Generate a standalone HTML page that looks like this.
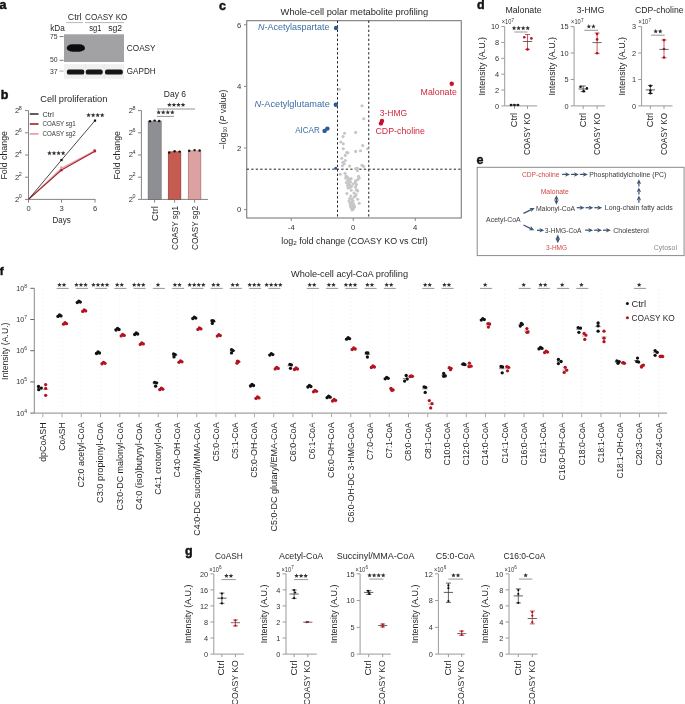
<!DOCTYPE html>
<html><head><meta charset="utf-8"><style>
html,body{margin:0;padding:0;background:#fff;width:685px;height:704px;overflow:hidden}
svg{display:block;will-change:transform}
text{font-family:"Liberation Sans",sans-serif}
</style></head><body>
<svg width="685" height="704" viewBox="0 0 685 704" font-family="Liberation Sans, sans-serif" fill="#231f20">
<text x="-0.50" y="9.00" font-size="12.5" fill="#111" font-weight="bold" stroke="#111" stroke-width="0.45">a</text>
<text x="67.80" y="20.40" font-size="8.5" textLength="13.80" lengthAdjust="spacingAndGlyphs">Ctrl</text>
<text x="85.00" y="20.40" font-size="8.5" textLength="42.40" lengthAdjust="spacingAndGlyphs">COASY KO</text>
<line x1="66.00" y1="22.60" x2="83.00" y2="22.60" stroke="#b0b0b0" stroke-width="0.9"/>
<line x1="85.00" y1="22.60" x2="124.00" y2="22.60" stroke="#b0b0b0" stroke-width="0.9"/>
<text x="50.20" y="31.00" font-size="8.5" textLength="14.60" lengthAdjust="spacingAndGlyphs">kDa</text>
<text x="89.20" y="31.00" font-size="8.5" textLength="12.20" lengthAdjust="spacingAndGlyphs">sg1</text>
<text x="108.20" y="31.00" font-size="8.5" textLength="14.00" lengthAdjust="spacingAndGlyphs">sg2</text>
<text x="50.00" y="39.00" font-size="7.8" fill="#333" textLength="7.60" lengthAdjust="spacingAndGlyphs">75</text>
<text x="50.00" y="62.40" font-size="7.8" fill="#333" textLength="7.60" lengthAdjust="spacingAndGlyphs">50</text>
<text x="50.00" y="73.80" font-size="7.8" fill="#333" textLength="7.60" lengthAdjust="spacingAndGlyphs">37</text>
<line x1="59.60" y1="36.60" x2="63.60" y2="36.60" stroke="#555" stroke-width="0.8"/>
<line x1="59.60" y1="60.30" x2="63.60" y2="60.30" stroke="#555" stroke-width="0.8"/>
<line x1="59.60" y1="71.10" x2="63.60" y2="71.10" stroke="#999" stroke-width="0.8"/>
<defs><filter id="blur1" x="-20%" y="-50%" width="140%" height="200%"><feGaussianBlur stdDeviation="0.6"/></filter><filter id="blur2"><feGaussianBlur stdDeviation="0.35"/></filter></defs>
<rect x="64.00" y="34.30" width="60.00" height="27.70" fill="#a2a2a4"/>
<rect x="66.7" y="44.3" width="18.3" height="7.4" rx="5.5" ry="3.7" fill="#0e0e0e" filter="url(#blur2)"/>
<rect x="64.00" y="64.20" width="60.00" height="14.60" fill="#f0f0f0"/>
<rect x="84.90" y="64.20" width="1.00" height="14.60" fill="#e6e6e6"/>
<rect x="103.70" y="64.20" width="1.00" height="14.60" fill="#e6e6e6"/>
<rect x="66.9" y="69.4" width="17.4" height="5.2" rx="2.0" ry="2.2" fill="#141414" filter="url(#blur2)"/>
<rect x="85.8" y="69.4" width="16.9" height="5.2" rx="2.0" ry="2.2" fill="#141414" filter="url(#blur2)"/>
<rect x="105.0" y="69.4" width="17.8" height="5.2" rx="2.0" ry="2.2" fill="#141414" filter="url(#blur2)"/>
<text x="126.80" y="51.40" font-size="8.5" textLength="28.80" lengthAdjust="spacingAndGlyphs">COASY</text>
<text x="126.80" y="74.40" font-size="8.5" textLength="28.80" lengthAdjust="spacingAndGlyphs">GAPDH</text>
<text x="0.80" y="98.90" font-size="12.5" fill="#111" font-weight="bold" stroke="#111" stroke-width="0.45">b</text>
<text x="40.20" y="102.00" font-size="9.6" textLength="67.20" lengthAdjust="spacingAndGlyphs">Cell proliferation</text>
<line x1="28.50" y1="110.50" x2="28.50" y2="199.40" stroke="#858585" stroke-width="1"/>
<line x1="28.50" y1="199.40" x2="95.50" y2="199.40" stroke="#858585" stroke-width="1"/>
<line x1="25.00" y1="199.40" x2="28.50" y2="199.40" stroke="#858585" stroke-width="1"/>
<text x="14.97" y="201.70" font-size="7.6" fill="#333">2<tspan font-size="5.4" dx="-0.5" dy="-3.4">0</tspan></text>
<line x1="25.00" y1="177.20" x2="28.50" y2="177.20" stroke="#858585" stroke-width="1"/>
<text x="14.97" y="179.50" font-size="7.6" fill="#333">2<tspan font-size="5.4" dx="-0.5" dy="-3.4">2</tspan></text>
<line x1="25.00" y1="155.00" x2="28.50" y2="155.00" stroke="#858585" stroke-width="1"/>
<text x="14.97" y="157.30" font-size="7.6" fill="#333">2<tspan font-size="5.4" dx="-0.5" dy="-3.4">4</tspan></text>
<line x1="25.00" y1="132.80" x2="28.50" y2="132.80" stroke="#858585" stroke-width="1"/>
<text x="14.97" y="135.10" font-size="7.6" fill="#333">2<tspan font-size="5.4" dx="-0.5" dy="-3.4">6</tspan></text>
<line x1="25.00" y1="110.60" x2="28.50" y2="110.60" stroke="#858585" stroke-width="1"/>
<text x="14.97" y="112.90" font-size="7.6" fill="#333">2<tspan font-size="5.4" dx="-0.5" dy="-3.4">8</tspan></text>
<line x1="28.50" y1="199.40" x2="28.50" y2="202.60" stroke="#858585" stroke-width="1"/>
<text x="28.50" y="211.30" font-size="7.6" text-anchor="middle" fill="#333">0</text>
<line x1="61.50" y1="199.40" x2="61.50" y2="202.60" stroke="#858585" stroke-width="1"/>
<text x="61.50" y="211.30" font-size="7.6" text-anchor="middle" fill="#333">3</text>
<line x1="95.00" y1="199.40" x2="95.00" y2="202.60" stroke="#858585" stroke-width="1"/>
<text x="95.00" y="211.30" font-size="7.6" text-anchor="middle" fill="#333">6</text>
<text x="52.60" y="223.00" font-size="8.5" textLength="18.20" lengthAdjust="spacingAndGlyphs">Days</text>
<text x="7.00" y="131.00" font-size="8.5" text-anchor="end" textLength="48.60" lengthAdjust="spacingAndGlyphs" transform="rotate(-90 7.00 131.00)">Fold change</text>
<line x1="29.80" y1="114.00" x2="38.50" y2="114.00" stroke="#1a1a1a" stroke-width="1.4"/>
<line x1="29.80" y1="124.00" x2="38.50" y2="124.00" stroke="#a3202e" stroke-width="1.6"/>
<line x1="29.80" y1="133.90" x2="38.50" y2="133.90" stroke="#e7a2a5" stroke-width="1.8"/>
<text x="42.60" y="116.60" font-size="6.8" fill="#333" textLength="11.20" lengthAdjust="spacingAndGlyphs">Ctrl</text>
<text x="42.60" y="126.30" font-size="6.8" fill="#333" textLength="33.00" lengthAdjust="spacingAndGlyphs">COASY sg1</text>
<text x="42.60" y="136.00" font-size="6.8" fill="#333" textLength="33.00" lengthAdjust="spacingAndGlyphs">COASY sg2</text>
<polyline points="28.5,199.4 61.5,168.2 95,150.6" fill="none" stroke="#e7a2a5" stroke-width="1.3"/>
<polyline points="28.5,199.4 61.5,170.0 95,151.2" fill="none" stroke="#a3202e" stroke-width="1.1"/>
<polyline points="28.5,199.4 61.5,160.0 95,120.6" fill="none" stroke="#1a1a1a" stroke-width="0.8"/>
<rect x="60.40" y="158.90" width="2.2" height="2.2" fill="#111"/>
<rect x="93.90" y="119.50" width="2.2" height="2.2" fill="#111"/>
<rect x="60.40" y="169.10" width="2.2" height="2.2" fill="#a3202e"/>
<rect x="93.90" y="150.10" width="2.2" height="2.2" fill="#a3202e"/>
<rect x="60.20" y="166.50" width="2.2" height="2.2" fill="#e49ca0"/>
<rect x="93.50" y="149.30" width="2.2" height="2.2" fill="#b6303c"/>
<polygon points="49.47,150.80 50.11,152.33 51.76,152.46 50.50,153.53 50.89,155.14 49.47,154.28 48.06,155.14 48.45,153.53 47.19,152.46 48.84,152.33" fill="#333"/>
<polygon points="54.02,150.80 54.66,152.33 56.31,152.46 55.05,153.53 55.44,155.14 54.02,154.28 52.61,155.14 53.00,153.53 51.74,152.46 53.39,152.33" fill="#333"/>
<polygon points="58.57,150.80 59.21,152.33 60.86,152.46 59.60,153.53 59.99,155.14 58.57,154.28 57.16,155.14 57.55,153.53 56.29,152.46 57.94,152.33" fill="#333"/>
<polygon points="63.12,150.80 63.76,152.33 65.41,152.46 64.15,153.53 64.54,155.14 63.12,154.28 61.71,155.14 62.10,153.53 60.84,152.46 62.49,152.33" fill="#333"/>
<polygon points="88.58,112.80 89.21,114.33 90.86,114.46 89.60,115.53 89.99,117.14 88.58,116.28 87.16,117.14 87.55,115.53 86.29,114.46 87.94,114.33" fill="#333"/>
<polygon points="93.12,112.80 93.76,114.33 95.41,114.46 94.15,115.53 94.54,117.14 93.12,116.28 91.71,117.14 92.10,115.53 90.84,114.46 92.49,114.33" fill="#333"/>
<polygon points="97.67,112.80 98.31,114.33 99.96,114.46 98.70,115.53 99.09,117.14 97.67,116.28 96.26,117.14 96.65,115.53 95.39,114.46 97.04,114.33" fill="#333"/>
<polygon points="102.22,112.80 102.86,114.33 104.51,114.46 103.25,115.53 103.64,117.14 102.22,116.28 100.81,117.14 101.20,115.53 99.94,114.46 101.59,114.33" fill="#333"/>
<text x="163.80" y="97.40" font-size="8.5" textLength="22.20" lengthAdjust="spacingAndGlyphs">Day 6</text>
<line x1="141.40" y1="110.50" x2="141.40" y2="199.40" stroke="#858585" stroke-width="1"/>
<line x1="141.40" y1="199.40" x2="208.00" y2="199.40" stroke="#858585" stroke-width="1"/>
<line x1="138.00" y1="199.40" x2="141.40" y2="199.40" stroke="#858585" stroke-width="1"/>
<text x="128.77" y="201.70" font-size="7.6" fill="#333">2<tspan font-size="5.4" dx="-0.5" dy="-3.4">0</tspan></text>
<line x1="138.00" y1="177.20" x2="141.40" y2="177.20" stroke="#858585" stroke-width="1"/>
<text x="128.77" y="179.50" font-size="7.6" fill="#333">2<tspan font-size="5.4" dx="-0.5" dy="-3.4">2</tspan></text>
<line x1="138.00" y1="155.00" x2="141.40" y2="155.00" stroke="#858585" stroke-width="1"/>
<text x="128.77" y="157.30" font-size="7.6" fill="#333">2<tspan font-size="5.4" dx="-0.5" dy="-3.4">4</tspan></text>
<line x1="138.00" y1="132.80" x2="141.40" y2="132.80" stroke="#858585" stroke-width="1"/>
<text x="128.77" y="135.10" font-size="7.6" fill="#333">2<tspan font-size="5.4" dx="-0.5" dy="-3.4">6</tspan></text>
<line x1="138.00" y1="110.60" x2="141.40" y2="110.60" stroke="#858585" stroke-width="1"/>
<text x="128.77" y="112.90" font-size="7.6" fill="#333">2<tspan font-size="5.4" dx="-0.5" dy="-3.4">8</tspan></text>
<rect x="148.10" y="121.00" width="13.10" height="78.40" fill="#8e8f93" stroke="#5a5b5e" stroke-width="0.5"/>
<rect x="168.20" y="151.80" width="12.70" height="47.60" fill="#c55b51" stroke="#7a2a26" stroke-width="0.5"/>
<rect x="188.20" y="150.90" width="12.70" height="48.50" fill="#dca1a0" stroke="#8a5a5a" stroke-width="0.5"/>
<line x1="150.00" y1="121.00" x2="159.50" y2="120.50" stroke="#ddd" stroke-width="0.6"/>
<circle cx="150.00" cy="121.20" r="1.2" fill="#111"/>
<circle cx="154.60" cy="120.60" r="1.2" fill="#111"/>
<circle cx="159.20" cy="121.00" r="1.2" fill="#111"/>
<circle cx="169.20" cy="152.60" r="1.2" fill="#111"/>
<circle cx="174.60" cy="151.20" r="1.2" fill="#111"/>
<circle cx="179.60" cy="151.60" r="1.2" fill="#111"/>
<circle cx="189.20" cy="150.70" r="1.2" fill="#111"/>
<circle cx="194.60" cy="150.10" r="1.2" fill="#111"/>
<circle cx="199.60" cy="150.50" r="1.2" fill="#111"/>
<line x1="154.60" y1="199.40" x2="154.60" y2="202.60" stroke="#858585" stroke-width="1"/>
<text x="157.60" y="206.00" font-size="8.3" text-anchor="end" textLength="15.00" lengthAdjust="spacingAndGlyphs" transform="rotate(-90 157.60 206.00)">Ctrl</text>
<line x1="174.60" y1="199.40" x2="174.60" y2="202.60" stroke="#858585" stroke-width="1"/>
<text x="177.60" y="206.00" font-size="8.3" text-anchor="end" textLength="44.00" lengthAdjust="spacingAndGlyphs" transform="rotate(-90 177.60 206.00)">COASY sg1</text>
<line x1="194.60" y1="199.40" x2="194.60" y2="202.60" stroke="#858585" stroke-width="1"/>
<text x="197.60" y="206.00" font-size="8.3" text-anchor="end" textLength="44.00" lengthAdjust="spacingAndGlyphs" transform="rotate(-90 197.60 206.00)">COASY sg2</text>
<polygon points="158.68,110.00 159.31,111.53 160.96,111.66 159.70,112.73 160.09,114.34 158.68,113.48 157.26,114.34 157.65,112.73 156.39,111.66 158.04,111.53" fill="#333"/>
<polygon points="163.23,110.00 163.86,111.53 165.51,111.66 164.25,112.73 164.64,114.34 163.23,113.48 161.81,114.34 162.20,112.73 160.94,111.66 162.59,111.53" fill="#333"/>
<polygon points="167.78,110.00 168.41,111.53 170.06,111.66 168.80,112.73 169.19,114.34 167.78,113.48 166.36,114.34 166.75,112.73 165.49,111.66 167.14,111.53" fill="#333"/>
<polygon points="172.33,110.00 172.96,111.53 174.61,111.66 173.35,112.73 173.74,114.34 172.33,113.48 170.91,114.34 171.30,112.73 170.04,111.66 171.69,111.53" fill="#333"/>
<line x1="157.00" y1="116.40" x2="174.00" y2="116.40" stroke="#888" stroke-width="0.9"/>
<polygon points="169.38,102.40 170.01,103.93 171.66,104.06 170.40,105.13 170.79,106.74 169.38,105.88 167.96,106.74 168.35,105.13 167.09,104.06 168.74,103.93" fill="#333"/>
<polygon points="173.93,102.40 174.56,103.93 176.21,104.06 174.95,105.13 175.34,106.74 173.93,105.88 172.51,106.74 172.90,105.13 171.64,104.06 173.29,103.93" fill="#333"/>
<polygon points="178.47,102.40 179.11,103.93 180.76,104.06 179.50,105.13 179.89,106.74 178.47,105.88 177.06,106.74 177.45,105.13 176.19,104.06 177.84,103.93" fill="#333"/>
<polygon points="183.03,102.40 183.66,103.93 185.31,104.06 184.05,105.13 184.44,106.74 183.03,105.88 181.61,106.74 182.00,105.13 180.74,104.06 182.39,103.93" fill="#333"/>
<line x1="157.00" y1="109.00" x2="195.00" y2="109.00" stroke="#888" stroke-width="0.9"/>
<text x="120.00" y="131.00" font-size="8.5" text-anchor="end" textLength="48.60" lengthAdjust="spacingAndGlyphs" transform="rotate(-90 120.00 131.00)">Fold change</text>
<text x="219.00" y="9.80" font-size="12.5" fill="#111" font-weight="bold" stroke="#111" stroke-width="0.45">c</text>
<text x="280.60" y="15.00" font-size="9.5" textLength="147.60" lengthAdjust="spacingAndGlyphs">Whole-cell polar metabolite profiling</text>
<rect x="246.75" y="20.7" width="214.5" height="197.3" fill="none" stroke="#6e6e6e" stroke-width="1"/>
<line x1="244.00" y1="209.60" x2="246.75" y2="209.60" stroke="#858585" stroke-width="1"/>
<text x="241.20" y="212.30" font-size="7.7" text-anchor="end" fill="#333">0</text>
<line x1="244.00" y1="148.00" x2="246.75" y2="148.00" stroke="#858585" stroke-width="1"/>
<text x="241.20" y="150.70" font-size="7.7" text-anchor="end" fill="#333">2</text>
<line x1="244.00" y1="86.40" x2="246.75" y2="86.40" stroke="#858585" stroke-width="1"/>
<text x="241.20" y="89.10" font-size="7.7" text-anchor="end" fill="#333">4</text>
<line x1="244.00" y1="24.80" x2="246.75" y2="24.80" stroke="#858585" stroke-width="1"/>
<text x="241.20" y="27.50" font-size="7.7" text-anchor="end" fill="#333">6</text>
<line x1="291.25" y1="218.00" x2="291.25" y2="221.00" stroke="#858585" stroke-width="1"/>
<text x="291.25" y="230.40" font-size="7.7" text-anchor="middle" fill="#333">-4</text>
<line x1="353.25" y1="218.00" x2="353.25" y2="221.00" stroke="#858585" stroke-width="1"/>
<text x="353.25" y="230.40" font-size="7.7" text-anchor="middle" fill="#333">0</text>
<line x1="415.25" y1="218.00" x2="415.25" y2="221.00" stroke="#858585" stroke-width="1"/>
<text x="415.25" y="230.40" font-size="7.7" text-anchor="middle" fill="#333">4</text>
<line x1="337.50" y1="20.70" x2="337.50" y2="218.00" stroke="#222" stroke-width="1.0" stroke-dasharray="2.3,2.2"/>
<line x1="368.75" y1="20.70" x2="368.75" y2="218.00" stroke="#222" stroke-width="1.0" stroke-dasharray="2.3,2.2"/>
<line x1="246.75" y1="169.20" x2="461.25" y2="169.20" stroke="#222" stroke-width="1.0" stroke-dasharray="2.3,2.2"/>
<text x="281.3" y="243.5" font-size="8.5" fill="#231f20" textLength="146.5" lengthAdjust="spacingAndGlyphs">log<tspan font-size="6" dy="1.8">2</tspan><tspan dy="-1.8"> fold change (COASY KO vs Ctrl)</tspan></text>
<text x="225.8" y="149.2" font-size="8.5" fill="#231f20" transform="rotate(-90 225.8 149.2)" textLength="59.5" lengthAdjust="spacingAndGlyphs">−log<tspan font-size="5" dy="1.6">10</tspan><tspan dy="-1.6"> (</tspan><tspan font-style="italic">P</tspan> value)</text>
<circle cx="339.25" cy="89.25" r="1.55" fill="#c6c6c8"/>
<circle cx="362.00" cy="105.75" r="1.55" fill="#c6c6c8"/>
<circle cx="363.75" cy="118.75" r="1.55" fill="#c6c6c8"/>
<circle cx="344.60" cy="133.30" r="1.55" fill="#c6c6c8"/>
<circle cx="343.00" cy="136.60" r="1.55" fill="#c6c6c8"/>
<circle cx="355.70" cy="132.40" r="1.55" fill="#c6c6c8"/>
<circle cx="340.80" cy="142.00" r="1.55" fill="#c6c6c8"/>
<circle cx="343.30" cy="143.70" r="1.55" fill="#c6c6c8"/>
<circle cx="362.70" cy="145.50" r="1.55" fill="#c6c6c8"/>
<circle cx="343.30" cy="148.80" r="1.55" fill="#c6c6c8"/>
<circle cx="367.60" cy="148.80" r="1.55" fill="#c6c6c8"/>
<circle cx="346.60" cy="152.50" r="1.55" fill="#c6c6c8"/>
<circle cx="347.90" cy="152.70" r="1.55" fill="#c6c6c8"/>
<circle cx="355.70" cy="151.40" r="1.55" fill="#c6c6c8"/>
<circle cx="360.50" cy="150.70" r="1.55" fill="#c6c6c8"/>
<circle cx="345.30" cy="155.40" r="1.55" fill="#c6c6c8"/>
<circle cx="341.70" cy="158.30" r="1.55" fill="#c6c6c8"/>
<circle cx="345.30" cy="160.50" r="1.55" fill="#c6c6c8"/>
<circle cx="342.80" cy="162.30" r="1.55" fill="#c6c6c8"/>
<circle cx="344.20" cy="163.80" r="1.55" fill="#c6c6c8"/>
<circle cx="342.40" cy="165.80" r="1.55" fill="#c6c6c8"/>
<circle cx="349.60" cy="166.10" r="1.55" fill="#c6c6c8"/>
<circle cx="362.00" cy="165.30" r="1.55" fill="#c6c6c8"/>
<circle cx="363.60" cy="166.40" r="1.55" fill="#c6c6c8"/>
<circle cx="355.90" cy="168.50" r="1.55" fill="#c6c6c8"/>
<circle cx="357.40" cy="168.20" r="1.55" fill="#c6c6c8"/>
<circle cx="340.20" cy="174.30" r="1.55" fill="#c6c6c8"/>
<circle cx="345.00" cy="173.20" r="1.55" fill="#c6c6c8"/>
<circle cx="357.40" cy="170.80" r="1.55" fill="#c6c6c8"/>
<circle cx="345.70" cy="178.10" r="1.55" fill="#c6c6c8"/>
<circle cx="347.50" cy="177.00" r="1.55" fill="#c6c6c8"/>
<circle cx="349.00" cy="178.90" r="1.55" fill="#c6c6c8"/>
<circle cx="351.20" cy="178.50" r="1.55" fill="#c6c6c8"/>
<circle cx="358.50" cy="176.30" r="1.55" fill="#c6c6c8"/>
<circle cx="359.20" cy="178.10" r="1.55" fill="#c6c6c8"/>
<circle cx="357.70" cy="179.60" r="1.55" fill="#c6c6c8"/>
<circle cx="355.50" cy="180.70" r="1.55" fill="#c6c6c8"/>
<circle cx="347.90" cy="180.30" r="1.55" fill="#c6c6c8"/>
<circle cx="349.70" cy="180.70" r="1.55" fill="#c6c6c8"/>
<circle cx="346.40" cy="182.50" r="1.55" fill="#c6c6c8"/>
<circle cx="355.20" cy="182.50" r="1.55" fill="#c6c6c8"/>
<circle cx="347.50" cy="185.40" r="1.55" fill="#c6c6c8"/>
<circle cx="349.70" cy="185.10" r="1.55" fill="#c6c6c8"/>
<circle cx="351.50" cy="186.50" r="1.55" fill="#c6c6c8"/>
<circle cx="355.50" cy="186.90" r="1.55" fill="#c6c6c8"/>
<circle cx="356.30" cy="189.80" r="1.55" fill="#c6c6c8"/>
<circle cx="357.70" cy="190.90" r="1.55" fill="#c6c6c8"/>
<circle cx="351.20" cy="190.20" r="1.55" fill="#c6c6c8"/>
<circle cx="346.90" cy="193.50" r="1.55" fill="#c6c6c8"/>
<circle cx="350.80" cy="196.00" r="1.55" fill="#c6c6c8"/>
<circle cx="355.50" cy="196.00" r="1.55" fill="#c6c6c8"/>
<circle cx="354.10" cy="197.10" r="1.55" fill="#c6c6c8"/>
<circle cx="349.70" cy="198.60" r="1.55" fill="#c6c6c8"/>
<circle cx="357.70" cy="199.20" r="1.55" fill="#c6c6c8"/>
<circle cx="349.00" cy="201.10" r="1.55" fill="#c6c6c8"/>
<circle cx="351.90" cy="201.50" r="1.55" fill="#c6c6c8"/>
<circle cx="351.20" cy="203.00" r="1.55" fill="#c6c6c8"/>
<circle cx="353.40" cy="203.70" r="1.55" fill="#c6c6c8"/>
<circle cx="359.20" cy="203.30" r="1.55" fill="#c6c6c8"/>
<circle cx="350.40" cy="205.90" r="1.55" fill="#c6c6c8"/>
<circle cx="354.10" cy="205.50" r="1.55" fill="#c6c6c8"/>
<circle cx="351.90" cy="207.30" r="1.55" fill="#c6c6c8"/>
<circle cx="353.40" cy="208.80" r="1.55" fill="#c6c6c8"/>
<circle cx="352.60" cy="209.50" r="1.55" fill="#c6c6c8"/>
<circle cx="352.00" cy="199.00" r="1.55" fill="#c6c6c8"/>
<circle cx="353.00" cy="201.00" r="1.55" fill="#c6c6c8"/>
<circle cx="350.00" cy="203.50" r="1.55" fill="#c6c6c8"/>
<circle cx="352.50" cy="205.00" r="1.55" fill="#c6c6c8"/>
<circle cx="351.00" cy="207.50" r="1.55" fill="#c6c6c8"/>
<circle cx="354.50" cy="207.00" r="1.55" fill="#c6c6c8"/>
<circle cx="352.00" cy="210.00" r="1.55" fill="#c6c6c8"/>
<circle cx="348.50" cy="183.50" r="1.55" fill="#c6c6c8"/>
<circle cx="350.50" cy="182.00" r="1.55" fill="#c6c6c8"/>
<circle cx="353.00" cy="184.00" r="1.55" fill="#c6c6c8"/>
<circle cx="356.50" cy="184.50" r="1.55" fill="#c6c6c8"/>
<circle cx="346.00" cy="176.00" r="1.55" fill="#c6c6c8"/>
<circle cx="348.00" cy="188.00" r="1.55" fill="#c6c6c8"/>
<circle cx="350.00" cy="187.50" r="1.55" fill="#c6c6c8"/>
<circle cx="354.00" cy="193.00" r="1.55" fill="#c6c6c8"/>
<circle cx="356.00" cy="194.50" r="1.55" fill="#c6c6c8"/>
<circle cx="336.00" cy="28.00" r="2.2" fill="#2c5a94"/>
<circle cx="335.80" cy="104.80" r="2.2" fill="#2c5a94"/>
<circle cx="324.60" cy="130.90" r="2.2" fill="#2c5a94"/>
<circle cx="327.40" cy="128.60" r="2.2" fill="#2c5a94"/>
<circle cx="335.80" cy="168.30" r="1.5" fill="#2c5a94"/>
<text x="258.00" y="30.10" font-size="8.5" fill="#3a6ea5" textLength="71.40" lengthAdjust="spacingAndGlyphs"><tspan font-style="italic">N</tspan>-Acetylaspartate</text>
<text x="254.60" y="107.20" font-size="8.5" fill="#3a6ea5" textLength="75.20" lengthAdjust="spacingAndGlyphs"><tspan font-style="italic">N</tspan>-Acetylglutamate</text>
<text x="295.20" y="133.00" font-size="8.5" fill="#3a6ea5" textLength="24.60" lengthAdjust="spacingAndGlyphs">AICAR</text>
<circle cx="451.75" cy="83.75" r="2.2" fill="#c8102e"/>
<circle cx="382.00" cy="120.90" r="2.2" fill="#c8102e"/>
<circle cx="380.90" cy="123.40" r="2.2" fill="#c8102e"/>
<text x="420.60" y="95.00" font-size="8.5" fill="#d0263a" textLength="36.20" lengthAdjust="spacingAndGlyphs">Malonate</text>
<text x="379.80" y="115.60" font-size="8.5" fill="#d0263a" textLength="27.40" lengthAdjust="spacingAndGlyphs">3-HMG</text>
<text x="375.50" y="134.00" font-size="8.5" fill="#d0263a" textLength="49.40" lengthAdjust="spacingAndGlyphs">CDP-choline</text>
<text x="477.00" y="9.00" font-size="12.5" fill="#111" font-weight="bold" stroke="#111" stroke-width="0.45">d</text>
<text x="505.40" y="12.80" font-size="8.5" textLength="36.20" lengthAdjust="spacingAndGlyphs">Malonate</text>
<line x1="504.70" y1="26.60" x2="504.70" y2="105.90" stroke="#9a9a9a" stroke-width="1"/>
<line x1="504.70" y1="105.90" x2="537.10" y2="105.90" stroke="#9a9a9a" stroke-width="1"/>
<line x1="501.30" y1="105.90" x2="504.70" y2="105.90" stroke="#9a9a9a" stroke-width="1"/>
<text x="499.10" y="108.60" font-size="7.6" text-anchor="end" fill="#333" textLength="4.10" lengthAdjust="spacingAndGlyphs">0</text>
<line x1="501.30" y1="90.04" x2="504.70" y2="90.04" stroke="#9a9a9a" stroke-width="1"/>
<text x="499.10" y="92.74" font-size="7.6" text-anchor="end" fill="#333" textLength="4.10" lengthAdjust="spacingAndGlyphs">2</text>
<line x1="501.30" y1="74.18" x2="504.70" y2="74.18" stroke="#9a9a9a" stroke-width="1"/>
<text x="499.10" y="76.88" font-size="7.6" text-anchor="end" fill="#333" textLength="4.10" lengthAdjust="spacingAndGlyphs">4</text>
<line x1="501.30" y1="58.32" x2="504.70" y2="58.32" stroke="#9a9a9a" stroke-width="1"/>
<text x="499.10" y="61.02" font-size="7.6" text-anchor="end" fill="#333" textLength="4.10" lengthAdjust="spacingAndGlyphs">6</text>
<line x1="501.30" y1="42.46" x2="504.70" y2="42.46" stroke="#9a9a9a" stroke-width="1"/>
<text x="499.10" y="45.16" font-size="7.6" text-anchor="end" fill="#333" textLength="4.10" lengthAdjust="spacingAndGlyphs">8</text>
<line x1="501.30" y1="26.60" x2="504.70" y2="26.60" stroke="#9a9a9a" stroke-width="1"/>
<text x="499.10" y="29.30" font-size="7.6" text-anchor="end" fill="#333" textLength="8.20" lengthAdjust="spacingAndGlyphs">10</text>
<text x="501.70" y="24.40" font-size="6.6" fill="#333" textLength="9.6" lengthAdjust="spacingAndGlyphs">×10</text>
<text x="511.50" y="21.70" font-size="4.6" fill="#333">7</text>
<line x1="514.50" y1="105.90" x2="514.50" y2="108.90" stroke="#9a9a9a" stroke-width="1"/>
<text x="517.10" y="113.00" font-size="8.3" text-anchor="end" textLength="14.20" lengthAdjust="spacingAndGlyphs" transform="rotate(-90 517.10 113.00)">Ctrl</text>
<line x1="527.50" y1="105.90" x2="527.50" y2="108.90" stroke="#9a9a9a" stroke-width="1"/>
<text x="530.10" y="113.00" font-size="8.3" text-anchor="end" textLength="42.00" lengthAdjust="spacingAndGlyphs" transform="rotate(-90 530.10 113.00)">COASY KO</text>
<line x1="527.50" y1="34.50" x2="527.50" y2="49.40" stroke="#b3121e" stroke-width="0.7"/>
<line x1="525.00" y1="34.50" x2="530.00" y2="34.50" stroke="#b3121e" stroke-width="0.7"/>
<line x1="525.00" y1="49.40" x2="530.00" y2="49.40" stroke="#b3121e" stroke-width="0.7"/>
<circle cx="511.00" cy="104.95" r="1.3" fill="#111"/>
<circle cx="514.50" cy="104.95" r="1.3" fill="#111"/>
<circle cx="518.00" cy="104.95" r="1.3" fill="#111"/>
<circle cx="524.30" cy="37.30" r="1.3" fill="#b3121e"/>
<circle cx="531.40" cy="38.40" r="1.3" fill="#b3121e"/>
<circle cx="527.50" cy="49.40" r="1.3" fill="#b3121e"/>
<line x1="509.90" y1="104.95" x2="519.10" y2="104.95" stroke="#333" stroke-width="0.8"/>
<line x1="522.90" y1="41.50" x2="532.10" y2="41.50" stroke="#444" stroke-width="0.8"/>
<polygon points="514.07,25.80 514.71,27.33 516.36,27.46 515.10,28.53 515.49,30.14 514.07,29.28 512.66,30.14 513.05,28.53 511.79,27.46 513.44,27.33" fill="#333"/>
<polygon points="518.62,25.80 519.26,27.33 520.91,27.46 519.65,28.53 520.04,30.14 518.62,29.28 517.21,30.14 517.60,28.53 516.34,27.46 517.99,27.33" fill="#333"/>
<polygon points="523.17,25.80 523.81,27.33 525.46,27.46 524.20,28.53 524.59,30.14 523.17,29.28 521.76,30.14 522.15,28.53 520.89,27.46 522.54,27.33" fill="#333"/>
<polygon points="527.72,25.80 528.36,27.33 530.01,27.46 528.75,28.53 529.14,30.14 527.72,29.28 526.31,30.14 526.70,28.53 525.44,27.46 527.09,27.33" fill="#333"/>
<line x1="514.30" y1="32.00" x2="527.50" y2="32.00" stroke="#8a8a8a" stroke-width="0.9"/>
<text x="484.60" y="95.55" font-size="8.3" textLength="58.60" lengthAdjust="spacingAndGlyphs" transform="rotate(-90 484.60 95.55)">Intensity (A.U.)</text>
<text x="576.80" y="12.80" font-size="8.5" textLength="27.60" lengthAdjust="spacingAndGlyphs">3-HMG</text>
<line x1="574.10" y1="26.60" x2="574.10" y2="105.90" stroke="#9a9a9a" stroke-width="1"/>
<line x1="574.10" y1="105.90" x2="605.00" y2="105.90" stroke="#9a9a9a" stroke-width="1"/>
<line x1="570.70" y1="105.90" x2="574.10" y2="105.90" stroke="#9a9a9a" stroke-width="1"/>
<text x="568.50" y="108.60" font-size="7.6" text-anchor="end" fill="#333" textLength="4.10" lengthAdjust="spacingAndGlyphs">0</text>
<line x1="570.70" y1="79.47" x2="574.10" y2="79.47" stroke="#9a9a9a" stroke-width="1"/>
<text x="568.50" y="82.17" font-size="7.6" text-anchor="end" fill="#333" textLength="4.10" lengthAdjust="spacingAndGlyphs">5</text>
<line x1="570.70" y1="53.03" x2="574.10" y2="53.03" stroke="#9a9a9a" stroke-width="1"/>
<text x="568.50" y="55.73" font-size="7.6" text-anchor="end" fill="#333" textLength="8.20" lengthAdjust="spacingAndGlyphs">10</text>
<line x1="570.70" y1="26.60" x2="574.10" y2="26.60" stroke="#9a9a9a" stroke-width="1"/>
<text x="568.50" y="29.30" font-size="7.6" text-anchor="end" fill="#333" textLength="8.20" lengthAdjust="spacingAndGlyphs">15</text>
<text x="571.10" y="24.40" font-size="6.6" fill="#333" textLength="9.6" lengthAdjust="spacingAndGlyphs">×10</text>
<text x="580.90" y="21.70" font-size="4.6" fill="#333">7</text>
<line x1="583.20" y1="105.90" x2="583.20" y2="108.90" stroke="#9a9a9a" stroke-width="1"/>
<text x="585.80" y="113.00" font-size="8.3" text-anchor="end" textLength="14.20" lengthAdjust="spacingAndGlyphs" transform="rotate(-90 585.80 113.00)">Ctrl</text>
<line x1="597.10" y1="105.90" x2="597.10" y2="108.90" stroke="#9a9a9a" stroke-width="1"/>
<text x="599.70" y="113.00" font-size="8.3" text-anchor="end" textLength="42.00" lengthAdjust="spacingAndGlyphs" transform="rotate(-90 599.70 113.00)">COASY KO</text>
<line x1="583.20" y1="86.00" x2="583.20" y2="91.60" stroke="#222" stroke-width="0.7"/>
<line x1="580.70" y1="86.00" x2="585.70" y2="86.00" stroke="#222" stroke-width="0.7"/>
<line x1="580.70" y1="91.60" x2="585.70" y2="91.60" stroke="#222" stroke-width="0.7"/>
<line x1="597.10" y1="33.00" x2="597.10" y2="53.30" stroke="#b3121e" stroke-width="0.7"/>
<line x1="594.60" y1="33.00" x2="599.60" y2="33.00" stroke="#b3121e" stroke-width="0.7"/>
<line x1="594.60" y1="53.30" x2="599.60" y2="53.30" stroke="#b3121e" stroke-width="0.7"/>
<circle cx="580.50" cy="86.70" r="1.3" fill="#111"/>
<circle cx="583.70" cy="91.20" r="1.3" fill="#111"/>
<circle cx="586.90" cy="88.40" r="1.3" fill="#111"/>
<circle cx="597.10" cy="34.10" r="1.3" fill="#b3121e"/>
<circle cx="597.10" cy="39.40" r="1.3" fill="#b3121e"/>
<circle cx="597.10" cy="53.30" r="1.3" fill="#b3121e"/>
<line x1="578.60" y1="89.00" x2="587.80" y2="89.00" stroke="#333" stroke-width="0.8"/>
<line x1="592.50" y1="42.60" x2="601.70" y2="42.60" stroke="#444" stroke-width="0.8"/>
<polygon points="588.88,24.10 589.51,25.63 591.16,25.76 589.90,26.83 590.29,28.44 588.88,27.58 587.46,28.44 587.85,26.83 586.59,25.76 588.24,25.63" fill="#333"/>
<polygon points="593.42,24.10 594.06,25.63 595.71,25.76 594.45,26.83 594.84,28.44 593.42,27.58 592.01,28.44 592.40,26.83 591.14,25.76 592.79,25.63" fill="#333"/>
<line x1="584.30" y1="30.30" x2="598.00" y2="30.30" stroke="#8a8a8a" stroke-width="0.9"/>
<text x="554.60" y="95.55" font-size="8.3" textLength="58.60" lengthAdjust="spacingAndGlyphs" transform="rotate(-90 554.60 95.55)">Intensity (A.U.)</text>
<text x="635.00" y="12.80" font-size="8.5" textLength="48.60" lengthAdjust="spacingAndGlyphs">CDP-choline</text>
<line x1="641.60" y1="26.60" x2="641.60" y2="105.90" stroke="#9a9a9a" stroke-width="1"/>
<line x1="641.60" y1="105.90" x2="672.50" y2="105.90" stroke="#9a9a9a" stroke-width="1"/>
<line x1="638.20" y1="105.90" x2="641.60" y2="105.90" stroke="#9a9a9a" stroke-width="1"/>
<text x="636.00" y="108.60" font-size="7.6" text-anchor="end" fill="#333" textLength="4.10" lengthAdjust="spacingAndGlyphs">0</text>
<line x1="638.20" y1="79.47" x2="641.60" y2="79.47" stroke="#9a9a9a" stroke-width="1"/>
<text x="636.00" y="82.17" font-size="7.6" text-anchor="end" fill="#333" textLength="4.10" lengthAdjust="spacingAndGlyphs">1</text>
<line x1="638.20" y1="53.03" x2="641.60" y2="53.03" stroke="#9a9a9a" stroke-width="1"/>
<text x="636.00" y="55.73" font-size="7.6" text-anchor="end" fill="#333" textLength="4.10" lengthAdjust="spacingAndGlyphs">2</text>
<line x1="638.20" y1="26.60" x2="641.60" y2="26.60" stroke="#9a9a9a" stroke-width="1"/>
<text x="636.00" y="29.30" font-size="7.6" text-anchor="end" fill="#333" textLength="4.10" lengthAdjust="spacingAndGlyphs">3</text>
<text x="638.60" y="24.40" font-size="6.6" fill="#333" textLength="9.6" lengthAdjust="spacingAndGlyphs">×10</text>
<text x="648.40" y="21.70" font-size="4.6" fill="#333">7</text>
<line x1="650.40" y1="105.90" x2="650.40" y2="108.90" stroke="#9a9a9a" stroke-width="1"/>
<text x="653.00" y="113.00" font-size="8.3" text-anchor="end" textLength="14.20" lengthAdjust="spacingAndGlyphs" transform="rotate(-90 653.00 113.00)">Ctrl</text>
<line x1="664.00" y1="105.90" x2="664.00" y2="108.90" stroke="#9a9a9a" stroke-width="1"/>
<text x="666.60" y="113.00" font-size="8.3" text-anchor="end" textLength="42.00" lengthAdjust="spacingAndGlyphs" transform="rotate(-90 666.60 113.00)">COASY KO</text>
<line x1="650.40" y1="85.50" x2="650.40" y2="93.50" stroke="#222" stroke-width="0.7"/>
<line x1="647.90" y1="85.50" x2="652.90" y2="85.50" stroke="#222" stroke-width="0.7"/>
<line x1="647.90" y1="93.50" x2="652.90" y2="93.50" stroke="#222" stroke-width="0.7"/>
<line x1="664.00" y1="39.99" x2="664.00" y2="57.79" stroke="#b3121e" stroke-width="0.7"/>
<line x1="661.50" y1="39.99" x2="666.50" y2="39.99" stroke="#b3121e" stroke-width="0.7"/>
<line x1="661.50" y1="57.79" x2="666.50" y2="57.79" stroke="#b3121e" stroke-width="0.7"/>
<circle cx="650.40" cy="85.90" r="1.3" fill="#111"/>
<circle cx="650.40" cy="90.60" r="1.3" fill="#111"/>
<circle cx="650.40" cy="93.30" r="1.3" fill="#111"/>
<circle cx="664.00" cy="40.09" r="1.3" fill="#b3121e"/>
<circle cx="664.00" cy="48.99" r="1.3" fill="#b3121e"/>
<circle cx="664.00" cy="57.49" r="1.3" fill="#b3121e"/>
<line x1="645.80" y1="89.90" x2="655.00" y2="89.90" stroke="#333" stroke-width="0.8"/>
<line x1="659.40" y1="49.39" x2="668.60" y2="49.39" stroke="#444" stroke-width="0.8"/>
<polygon points="655.68,29.00 656.31,30.53 657.96,30.66 656.70,31.73 657.09,33.34 655.68,32.48 654.26,33.34 654.65,31.73 653.39,30.66 655.04,30.53" fill="#333"/>
<polygon points="660.23,29.00 660.86,30.53 662.51,30.66 661.25,31.73 661.64,33.34 660.23,32.48 658.81,33.34 659.20,31.73 657.94,30.66 659.59,30.53" fill="#333"/>
<line x1="651.20" y1="35.20" x2="664.70" y2="35.20" stroke="#8a8a8a" stroke-width="0.9"/>
<text x="624.60" y="95.55" font-size="8.3" textLength="58.60" lengthAdjust="spacingAndGlyphs" transform="rotate(-90 624.60 95.55)">Intensity (A.U.)</text>
<text x="476.60" y="164.30" font-size="12.5" fill="#111" font-weight="bold" stroke="#111" stroke-width="0.45">e</text>
<rect x="477.2" y="167.3" width="206.9" height="88.3" fill="none" stroke="#8a8a8a" stroke-width="1"/>
<text x="522.00" y="176.90" font-size="6.8" fill="#d0494b" textLength="37.40" lengthAdjust="spacingAndGlyphs">CDP-choline</text>
<text x="589.20" y="176.90" font-size="6.8" fill="#3a3a3a" textLength="77.20" lengthAdjust="spacingAndGlyphs">Phosphatidylcholine (PC)</text>
<text x="540.70" y="194.00" font-size="6.8" fill="#d0494b" textLength="28.00" lengthAdjust="spacingAndGlyphs">Malonate</text>
<text x="535.90" y="210.60" font-size="6.8" fill="#3a3a3a" textLength="39.20" lengthAdjust="spacingAndGlyphs">Malonyl-CoA</text>
<text x="604.80" y="210.10" font-size="6.8" fill="#3a3a3a" textLength="68.00" lengthAdjust="spacingAndGlyphs">Long-chain fatty acids</text>
<text x="486.10" y="221.80" font-size="6.8" fill="#3a3a3a" textLength="34.60" lengthAdjust="spacingAndGlyphs">Acetyl-CoA</text>
<text x="544.80" y="232.60" font-size="6.8" fill="#3a3a3a" textLength="36.60" lengthAdjust="spacingAndGlyphs">3-HMG-CoA</text>
<text x="613.20" y="232.60" font-size="6.8" fill="#3a3a3a" textLength="35.60" lengthAdjust="spacingAndGlyphs">Cholesterol</text>
<text x="546.10" y="250.30" font-size="6.8" fill="#d0494b" textLength="21.00" lengthAdjust="spacingAndGlyphs">3-HMG</text>
<text x="653.80" y="249.90" font-size="6.8" fill="#8a8a8a" textLength="23.20" lengthAdjust="spacingAndGlyphs">Cytosol</text>
<line x1="562.10" y1="174.40" x2="566.20" y2="174.40" stroke="#3b5372" stroke-width="1.25"/>
<polygon points="570.00,174.40 565.10,172.15 566.30,174.40 565.10,176.65" fill="#3b5372"/>
<line x1="571.00" y1="174.40" x2="575.10" y2="174.40" stroke="#3b5372" stroke-width="1.25"/>
<polygon points="578.90,174.40 574.00,172.15 575.20,174.40 574.00,176.65" fill="#3b5372"/>
<line x1="579.90" y1="174.40" x2="584.00" y2="174.40" stroke="#3b5372" stroke-width="1.25"/>
<polygon points="587.80,174.40 582.90,172.15 584.10,174.40 582.90,176.65" fill="#3b5372"/>
<line x1="576.80" y1="207.70" x2="580.80" y2="207.70" stroke="#3b5372" stroke-width="1.25"/>
<polygon points="584.60,207.70 579.70,205.45 580.90,207.70 579.70,209.95" fill="#3b5372"/>
<line x1="585.60" y1="207.70" x2="589.60" y2="207.70" stroke="#3b5372" stroke-width="1.25"/>
<polygon points="593.40,207.70 588.50,205.45 589.70,207.70 588.50,209.95" fill="#3b5372"/>
<line x1="594.40" y1="207.70" x2="598.40" y2="207.70" stroke="#3b5372" stroke-width="1.25"/>
<polygon points="602.20,207.70 597.30,205.45 598.50,207.70 597.30,209.95" fill="#3b5372"/>
<line x1="585.20" y1="230.20" x2="589.30" y2="230.20" stroke="#3b5372" stroke-width="1.25"/>
<polygon points="593.10,230.20 588.20,227.95 589.40,230.20 588.20,232.45" fill="#3b5372"/>
<line x1="594.10" y1="230.20" x2="598.20" y2="230.20" stroke="#3b5372" stroke-width="1.25"/>
<polygon points="602.00,230.20 597.10,227.95 598.30,230.20 597.10,232.45" fill="#3b5372"/>
<line x1="603.00" y1="230.20" x2="607.10" y2="230.20" stroke="#3b5372" stroke-width="1.25"/>
<polygon points="610.90,230.20 606.00,227.95 607.20,230.20 606.00,232.45" fill="#3b5372"/>
<line x1="638.90" y1="202.80" x2="638.90" y2="199.40" stroke="#3b5372" stroke-width="1.25"/>
<polygon points="638.90,195.60 636.65,200.50 638.90,199.30 641.15,200.50" fill="#3b5372"/>
<line x1="638.90" y1="194.60" x2="638.90" y2="191.20" stroke="#3b5372" stroke-width="1.25"/>
<polygon points="638.90,187.40 636.65,192.30 638.90,191.10 641.15,192.30" fill="#3b5372"/>
<line x1="638.90" y1="186.40" x2="638.90" y2="183.00" stroke="#3b5372" stroke-width="1.25"/>
<polygon points="638.90,179.20 636.65,184.10 638.90,182.90 641.15,184.10" fill="#3b5372"/>
<line x1="523.50" y1="213.40" x2="531.29" y2="209.58" stroke="#3b5372" stroke-width="1.25"/>
<polygon points="534.70,207.90 529.31,208.04 531.38,209.53 531.29,212.08" fill="#3b5372"/>
<line x1="523.50" y1="225.00" x2="530.79" y2="228.61" stroke="#3b5372" stroke-width="1.25"/>
<polygon points="534.20,230.30 530.81,226.11 530.88,228.66 528.81,230.14" fill="#3b5372"/>
<line x1="537.00" y1="230.30" x2="540.50" y2="230.30" stroke="#3b5372" stroke-width="1.25"/>
<polygon points="544.30,230.30 539.40,228.05 540.60,230.30 539.40,232.55" fill="#3b5372"/>
<line x1="556.40" y1="198.20" x2="556.40" y2="201.80" stroke="#3b5372" stroke-width="1.25"/>
<polygon points="556.40,195.20 554.15,200.10 556.40,198.90 558.65,200.10" fill="#3b5372"/>
<polygon points="556.40,204.80 558.65,199.90 556.40,201.10 554.15,199.90" fill="#3b5372"/>
<line x1="557.80" y1="237.60" x2="557.80" y2="240.30" stroke="#3b5372" stroke-width="1.25"/>
<polygon points="557.80,234.60 555.55,239.50 557.80,238.30 560.05,239.50" fill="#3b5372"/>
<polygon points="557.80,243.30 560.05,238.40 557.80,239.60 555.55,238.40" fill="#3b5372"/>
<text x="-0.30" y="274.50" font-size="11.5" fill="#111" font-weight="bold" stroke="#111" stroke-width="0.45">f</text>
<text x="291.00" y="277.00" font-size="9.3" textLength="117.00" lengthAdjust="spacingAndGlyphs">Whole-cell acyl-CoA profiling</text>
<line x1="34.30" y1="288.30" x2="34.30" y2="413.10" stroke="#8a8a8a" stroke-width="1"/>
<line x1="34.30" y1="413.10" x2="667.00" y2="413.10" stroke="#8a8a8a" stroke-width="1"/>
<line x1="30.30" y1="413.10" x2="34.30" y2="413.10" stroke="#666" stroke-width="1"/>
<text x="16.3" y="415.50" font-size="7.2" fill="#333">10<tspan font-size="5" dy="-3.0">4</tspan></text>
<line x1="30.30" y1="381.90" x2="34.30" y2="381.90" stroke="#666" stroke-width="1"/>
<text x="16.3" y="384.30" font-size="7.2" fill="#333">10<tspan font-size="5" dy="-3.0">5</tspan></text>
<line x1="30.30" y1="350.70" x2="34.30" y2="350.70" stroke="#666" stroke-width="1"/>
<text x="16.3" y="353.10" font-size="7.2" fill="#333">10<tspan font-size="5" dy="-3.0">6</tspan></text>
<line x1="30.30" y1="319.50" x2="34.30" y2="319.50" stroke="#666" stroke-width="1"/>
<text x="16.3" y="321.90" font-size="7.2" fill="#333">10<tspan font-size="5" dy="-3.0">7</tspan></text>
<line x1="30.30" y1="288.30" x2="34.30" y2="288.30" stroke="#666" stroke-width="1"/>
<text x="16.3" y="290.70" font-size="7.2" fill="#333">10<tspan font-size="5" dy="-3.0">8</tspan></text>
<text x="8.30" y="322.50" font-size="8.3" text-anchor="end" textLength="57.50" lengthAdjust="spacingAndGlyphs" transform="rotate(-90 8.30 322.50)">Intensity (A.U.)</text>
<line x1="42.80" y1="290.00" x2="42.80" y2="413.10" stroke="#e6e6e6" stroke-width="0.7" stroke-dasharray="1,3"/>
<line x1="62.05" y1="290.00" x2="62.05" y2="413.10" stroke="#e6e6e6" stroke-width="0.7" stroke-dasharray="1,3"/>
<line x1="81.29" y1="290.00" x2="81.29" y2="413.10" stroke="#e6e6e6" stroke-width="0.7" stroke-dasharray="1,3"/>
<line x1="100.54" y1="290.00" x2="100.54" y2="413.10" stroke="#e6e6e6" stroke-width="0.7" stroke-dasharray="1,3"/>
<line x1="119.79" y1="290.00" x2="119.79" y2="413.10" stroke="#e6e6e6" stroke-width="0.7" stroke-dasharray="1,3"/>
<line x1="139.03" y1="290.00" x2="139.03" y2="413.10" stroke="#e6e6e6" stroke-width="0.7" stroke-dasharray="1,3"/>
<line x1="158.28" y1="290.00" x2="158.28" y2="413.10" stroke="#e6e6e6" stroke-width="0.7" stroke-dasharray="1,3"/>
<line x1="177.53" y1="290.00" x2="177.53" y2="413.10" stroke="#e6e6e6" stroke-width="0.7" stroke-dasharray="1,3"/>
<line x1="196.78" y1="290.00" x2="196.78" y2="413.10" stroke="#e6e6e6" stroke-width="0.7" stroke-dasharray="1,3"/>
<line x1="216.02" y1="290.00" x2="216.02" y2="413.10" stroke="#e6e6e6" stroke-width="0.7" stroke-dasharray="1,3"/>
<line x1="235.27" y1="290.00" x2="235.27" y2="413.10" stroke="#e6e6e6" stroke-width="0.7" stroke-dasharray="1,3"/>
<line x1="254.52" y1="290.00" x2="254.52" y2="413.10" stroke="#e6e6e6" stroke-width="0.7" stroke-dasharray="1,3"/>
<line x1="273.76" y1="290.00" x2="273.76" y2="413.10" stroke="#e6e6e6" stroke-width="0.7" stroke-dasharray="1,3"/>
<line x1="293.01" y1="290.00" x2="293.01" y2="413.10" stroke="#e6e6e6" stroke-width="0.7" stroke-dasharray="1,3"/>
<line x1="312.26" y1="290.00" x2="312.26" y2="413.10" stroke="#e6e6e6" stroke-width="0.7" stroke-dasharray="1,3"/>
<line x1="331.50" y1="290.00" x2="331.50" y2="413.10" stroke="#e6e6e6" stroke-width="0.7" stroke-dasharray="1,3"/>
<line x1="350.75" y1="290.00" x2="350.75" y2="413.10" stroke="#e6e6e6" stroke-width="0.7" stroke-dasharray="1,3"/>
<line x1="370.00" y1="290.00" x2="370.00" y2="413.10" stroke="#e6e6e6" stroke-width="0.7" stroke-dasharray="1,3"/>
<line x1="389.25" y1="290.00" x2="389.25" y2="413.10" stroke="#e6e6e6" stroke-width="0.7" stroke-dasharray="1,3"/>
<line x1="408.49" y1="290.00" x2="408.49" y2="413.10" stroke="#e6e6e6" stroke-width="0.7" stroke-dasharray="1,3"/>
<line x1="427.74" y1="290.00" x2="427.74" y2="413.10" stroke="#e6e6e6" stroke-width="0.7" stroke-dasharray="1,3"/>
<line x1="446.99" y1="290.00" x2="446.99" y2="413.10" stroke="#e6e6e6" stroke-width="0.7" stroke-dasharray="1,3"/>
<line x1="466.23" y1="290.00" x2="466.23" y2="413.10" stroke="#e6e6e6" stroke-width="0.7" stroke-dasharray="1,3"/>
<line x1="485.48" y1="290.00" x2="485.48" y2="413.10" stroke="#e6e6e6" stroke-width="0.7" stroke-dasharray="1,3"/>
<line x1="504.73" y1="290.00" x2="504.73" y2="413.10" stroke="#e6e6e6" stroke-width="0.7" stroke-dasharray="1,3"/>
<line x1="523.98" y1="290.00" x2="523.98" y2="413.10" stroke="#e6e6e6" stroke-width="0.7" stroke-dasharray="1,3"/>
<line x1="543.22" y1="290.00" x2="543.22" y2="413.10" stroke="#e6e6e6" stroke-width="0.7" stroke-dasharray="1,3"/>
<line x1="562.47" y1="290.00" x2="562.47" y2="413.10" stroke="#e6e6e6" stroke-width="0.7" stroke-dasharray="1,3"/>
<line x1="581.72" y1="290.00" x2="581.72" y2="413.10" stroke="#e6e6e6" stroke-width="0.7" stroke-dasharray="1,3"/>
<line x1="600.96" y1="290.00" x2="600.96" y2="413.10" stroke="#e6e6e6" stroke-width="0.7" stroke-dasharray="1,3"/>
<line x1="620.21" y1="290.00" x2="620.21" y2="413.10" stroke="#e6e6e6" stroke-width="0.7" stroke-dasharray="1,3"/>
<line x1="639.46" y1="290.00" x2="639.46" y2="413.10" stroke="#e6e6e6" stroke-width="0.7" stroke-dasharray="1,3"/>
<line x1="658.70" y1="290.00" x2="658.70" y2="413.10" stroke="#e6e6e6" stroke-width="0.7" stroke-dasharray="1,3"/>
<line x1="42.80" y1="413.10" x2="42.80" y2="417.30" stroke="#aaa" stroke-width="1"/>
<text x="45.70" y="422.40" font-size="8.2" text-anchor="end" textLength="39.40" lengthAdjust="spacingAndGlyphs" transform="rotate(-90 45.70 422.40)">dpCoASH</text>
<line x1="62.05" y1="413.10" x2="62.05" y2="417.30" stroke="#aaa" stroke-width="1"/>
<text x="64.95" y="422.40" font-size="8.2" text-anchor="end" textLength="28.30" lengthAdjust="spacingAndGlyphs" transform="rotate(-90 64.95 422.40)">CoASH</text>
<line x1="81.29" y1="413.10" x2="81.29" y2="417.30" stroke="#aaa" stroke-width="1"/>
<text x="84.19" y="422.40" font-size="8.2" text-anchor="end" textLength="65.00" lengthAdjust="spacingAndGlyphs" transform="rotate(-90 84.19 422.40)">C2:0 acetyl-CoA</text>
<line x1="100.54" y1="413.10" x2="100.54" y2="417.30" stroke="#aaa" stroke-width="1"/>
<text x="103.44" y="422.40" font-size="8.2" text-anchor="end" textLength="80.60" lengthAdjust="spacingAndGlyphs" transform="rotate(-90 103.44 422.40)">C3:0 propionyl-CoA</text>
<line x1="119.79" y1="413.10" x2="119.79" y2="417.30" stroke="#aaa" stroke-width="1"/>
<text x="122.69" y="422.40" font-size="8.2" text-anchor="end" textLength="88.10" lengthAdjust="spacingAndGlyphs" transform="rotate(-90 122.69 422.40)">C3:0-DC malonyl-CoA</text>
<line x1="139.03" y1="413.10" x2="139.03" y2="417.30" stroke="#aaa" stroke-width="1"/>
<text x="141.94" y="422.40" font-size="8.2" text-anchor="end" textLength="87.70" lengthAdjust="spacingAndGlyphs" transform="rotate(-90 141.94 422.40)">C4:0 (iso)butyryl-CoA</text>
<line x1="158.28" y1="413.10" x2="158.28" y2="417.30" stroke="#aaa" stroke-width="1"/>
<text x="161.18" y="422.40" font-size="8.2" text-anchor="end" textLength="72.40" lengthAdjust="spacingAndGlyphs" transform="rotate(-90 161.18 422.40)">C4:1 crotonyl-CoA</text>
<line x1="177.53" y1="413.10" x2="177.53" y2="417.30" stroke="#aaa" stroke-width="1"/>
<text x="180.43" y="422.40" font-size="8.2" text-anchor="end" textLength="55.00" lengthAdjust="spacingAndGlyphs" transform="rotate(-90 180.43 422.40)">C4:0-OH-CoA</text>
<line x1="196.78" y1="413.10" x2="196.78" y2="417.30" stroke="#aaa" stroke-width="1"/>
<text x="199.68" y="422.40" font-size="8.2" text-anchor="end" textLength="113.30" lengthAdjust="spacingAndGlyphs" transform="rotate(-90 199.68 422.40)">C4:0-DC succinyl/MMA-CoA</text>
<line x1="216.02" y1="413.10" x2="216.02" y2="417.30" stroke="#aaa" stroke-width="1"/>
<text x="218.92" y="422.40" font-size="8.2" text-anchor="end" textLength="39.20" lengthAdjust="spacingAndGlyphs" transform="rotate(-90 218.92 422.40)">C5:0-CoA</text>
<line x1="235.27" y1="413.10" x2="235.27" y2="417.30" stroke="#aaa" stroke-width="1"/>
<text x="238.17" y="422.40" font-size="8.2" text-anchor="end" textLength="36.60" lengthAdjust="spacingAndGlyphs" transform="rotate(-90 238.17 422.40)">C5:1-CoA</text>
<line x1="254.52" y1="413.10" x2="254.52" y2="417.30" stroke="#aaa" stroke-width="1"/>
<text x="257.42" y="422.40" font-size="8.2" text-anchor="end" textLength="55.40" lengthAdjust="spacingAndGlyphs" transform="rotate(-90 257.42 422.40)">C5:0-OH-CoA</text>
<line x1="273.76" y1="413.10" x2="273.76" y2="417.30" stroke="#aaa" stroke-width="1"/>
<text x="276.66" y="422.40" font-size="8.2" text-anchor="end" textLength="109.10" lengthAdjust="spacingAndGlyphs" transform="rotate(-90 276.66 422.40)">C5:0-DC glutaryl/EMA-CoA</text>
<line x1="293.01" y1="413.10" x2="293.01" y2="417.30" stroke="#aaa" stroke-width="1"/>
<text x="295.91" y="422.40" font-size="8.2" text-anchor="end" textLength="39.40" lengthAdjust="spacingAndGlyphs" transform="rotate(-90 295.91 422.40)">C6:0-CoA</text>
<line x1="312.26" y1="413.10" x2="312.26" y2="417.30" stroke="#aaa" stroke-width="1"/>
<text x="315.16" y="422.40" font-size="8.2" text-anchor="end" textLength="37.00" lengthAdjust="spacingAndGlyphs" transform="rotate(-90 315.16 422.40)">C6:1-CoA</text>
<line x1="331.50" y1="413.10" x2="331.50" y2="417.30" stroke="#aaa" stroke-width="1"/>
<text x="334.40" y="422.40" font-size="8.2" text-anchor="end" textLength="55.50" lengthAdjust="spacingAndGlyphs" transform="rotate(-90 334.40 422.40)">C6:0-OH-CoA</text>
<line x1="350.75" y1="413.10" x2="350.75" y2="417.30" stroke="#aaa" stroke-width="1"/>
<text x="353.65" y="422.40" font-size="8.2" text-anchor="end" textLength="100.40" lengthAdjust="spacingAndGlyphs" transform="rotate(-90 353.65 422.40)">C6:0-OH-DC 3-HMG-CoA</text>
<line x1="370.00" y1="413.10" x2="370.00" y2="417.30" stroke="#aaa" stroke-width="1"/>
<text x="372.90" y="422.40" font-size="8.2" text-anchor="end" textLength="37.70" lengthAdjust="spacingAndGlyphs" transform="rotate(-90 372.90 422.40)">C7:0-CoA</text>
<line x1="389.25" y1="413.10" x2="389.25" y2="417.30" stroke="#aaa" stroke-width="1"/>
<text x="392.15" y="422.40" font-size="8.2" text-anchor="end" textLength="36.20" lengthAdjust="spacingAndGlyphs" transform="rotate(-90 392.15 422.40)">C7:1-CoA</text>
<line x1="408.49" y1="413.10" x2="408.49" y2="417.30" stroke="#aaa" stroke-width="1"/>
<text x="411.39" y="422.40" font-size="8.2" text-anchor="end" textLength="38.70" lengthAdjust="spacingAndGlyphs" transform="rotate(-90 411.39 422.40)">C8:0-CoA</text>
<line x1="427.74" y1="413.10" x2="427.74" y2="417.30" stroke="#aaa" stroke-width="1"/>
<text x="430.64" y="422.40" font-size="8.2" text-anchor="end" textLength="36.60" lengthAdjust="spacingAndGlyphs" transform="rotate(-90 430.64 422.40)">C8:1-CoA</text>
<line x1="446.99" y1="413.10" x2="446.99" y2="417.30" stroke="#aaa" stroke-width="1"/>
<text x="449.89" y="422.40" font-size="8.2" text-anchor="end" textLength="43.20" lengthAdjust="spacingAndGlyphs" transform="rotate(-90 449.89 422.40)">C10:0-CoA</text>
<line x1="466.23" y1="413.10" x2="466.23" y2="417.30" stroke="#aaa" stroke-width="1"/>
<text x="469.13" y="422.40" font-size="8.2" text-anchor="end" textLength="43.20" lengthAdjust="spacingAndGlyphs" transform="rotate(-90 469.13 422.40)">C12:0-CoA</text>
<line x1="485.48" y1="413.10" x2="485.48" y2="417.30" stroke="#aaa" stroke-width="1"/>
<text x="488.38" y="422.40" font-size="8.2" text-anchor="end" textLength="43.20" lengthAdjust="spacingAndGlyphs" transform="rotate(-90 488.38 422.40)">C14:0-CoA</text>
<line x1="504.73" y1="413.10" x2="504.73" y2="417.30" stroke="#aaa" stroke-width="1"/>
<text x="507.63" y="422.40" font-size="8.2" text-anchor="end" textLength="41.10" lengthAdjust="spacingAndGlyphs" transform="rotate(-90 507.63 422.40)">C14:1-CoA</text>
<line x1="523.98" y1="413.10" x2="523.98" y2="417.30" stroke="#aaa" stroke-width="1"/>
<text x="526.88" y="422.40" font-size="8.2" text-anchor="end" textLength="43.20" lengthAdjust="spacingAndGlyphs" transform="rotate(-90 526.88 422.40)">C16:0-CoA</text>
<line x1="543.22" y1="413.10" x2="543.22" y2="417.30" stroke="#aaa" stroke-width="1"/>
<text x="546.12" y="422.40" font-size="8.2" text-anchor="end" textLength="41.10" lengthAdjust="spacingAndGlyphs" transform="rotate(-90 546.12 422.40)">C16:1-CoA</text>
<line x1="562.47" y1="413.10" x2="562.47" y2="417.30" stroke="#aaa" stroke-width="1"/>
<text x="565.37" y="422.40" font-size="8.2" text-anchor="end" textLength="58.10" lengthAdjust="spacingAndGlyphs" transform="rotate(-90 565.37 422.40)">C16:0-OH-CoA</text>
<line x1="581.72" y1="413.10" x2="581.72" y2="417.30" stroke="#aaa" stroke-width="1"/>
<text x="584.62" y="422.40" font-size="8.2" text-anchor="end" textLength="42.80" lengthAdjust="spacingAndGlyphs" transform="rotate(-90 584.62 422.40)">C18:0-CoA</text>
<line x1="600.96" y1="413.10" x2="600.96" y2="417.30" stroke="#aaa" stroke-width="1"/>
<text x="603.86" y="422.40" font-size="8.2" text-anchor="end" textLength="40.70" lengthAdjust="spacingAndGlyphs" transform="rotate(-90 603.86 422.40)">C18:1-CoA</text>
<line x1="620.21" y1="413.10" x2="620.21" y2="417.30" stroke="#aaa" stroke-width="1"/>
<text x="623.11" y="422.40" font-size="8.2" text-anchor="end" textLength="56.10" lengthAdjust="spacingAndGlyphs" transform="rotate(-90 623.11 422.40)">C18:1-OH-CoA</text>
<line x1="639.46" y1="413.10" x2="639.46" y2="417.30" stroke="#aaa" stroke-width="1"/>
<text x="642.36" y="422.40" font-size="8.2" text-anchor="end" textLength="43.20" lengthAdjust="spacingAndGlyphs" transform="rotate(-90 642.36 422.40)">C20:3-CoA</text>
<line x1="658.70" y1="413.10" x2="658.70" y2="417.30" stroke="#aaa" stroke-width="1"/>
<text x="661.60" y="422.40" font-size="8.2" text-anchor="end" textLength="43.20" lengthAdjust="spacingAndGlyphs" transform="rotate(-90 661.60 422.40)">C20:4-CoA</text>
<line x1="37.20" y1="388.10" x2="42.60" y2="388.10" stroke="#555" stroke-width="0.7"/>
<line x1="43.00" y1="389.43" x2="48.40" y2="389.43" stroke="#888" stroke-width="0.7"/>
<line x1="56.45" y1="315.73" x2="61.85" y2="315.73" stroke="#555" stroke-width="0.7"/>
<line x1="62.25" y1="323.53" x2="67.65" y2="323.53" stroke="#888" stroke-width="0.7"/>
<line x1="75.69" y1="301.93" x2="81.09" y2="301.93" stroke="#555" stroke-width="0.7"/>
<line x1="81.49" y1="310.73" x2="86.89" y2="310.73" stroke="#888" stroke-width="0.7"/>
<line x1="94.94" y1="352.83" x2="100.34" y2="352.83" stroke="#555" stroke-width="0.7"/>
<line x1="100.74" y1="363.13" x2="106.14" y2="363.13" stroke="#888" stroke-width="0.7"/>
<line x1="114.19" y1="329.33" x2="119.59" y2="329.33" stroke="#555" stroke-width="0.7"/>
<line x1="119.99" y1="335.23" x2="125.39" y2="335.23" stroke="#888" stroke-width="0.7"/>
<line x1="133.44" y1="333.83" x2="138.84" y2="333.83" stroke="#555" stroke-width="0.7"/>
<line x1="139.23" y1="343.73" x2="144.63" y2="343.73" stroke="#888" stroke-width="0.7"/>
<line x1="152.68" y1="383.77" x2="158.08" y2="383.77" stroke="#555" stroke-width="0.7"/>
<line x1="158.48" y1="389.03" x2="163.88" y2="389.03" stroke="#888" stroke-width="0.7"/>
<line x1="171.93" y1="355.17" x2="177.33" y2="355.17" stroke="#555" stroke-width="0.7"/>
<line x1="177.73" y1="361.63" x2="183.13" y2="361.63" stroke="#888" stroke-width="0.7"/>
<line x1="191.18" y1="317.93" x2="196.58" y2="317.93" stroke="#555" stroke-width="0.7"/>
<line x1="196.98" y1="328.73" x2="202.38" y2="328.73" stroke="#888" stroke-width="0.7"/>
<line x1="210.42" y1="321.67" x2="215.82" y2="321.67" stroke="#555" stroke-width="0.7"/>
<line x1="216.22" y1="335.43" x2="221.62" y2="335.43" stroke="#888" stroke-width="0.7"/>
<line x1="229.67" y1="351.03" x2="235.07" y2="351.03" stroke="#555" stroke-width="0.7"/>
<line x1="235.47" y1="361.97" x2="240.87" y2="361.97" stroke="#888" stroke-width="0.7"/>
<line x1="248.92" y1="385.33" x2="254.32" y2="385.33" stroke="#555" stroke-width="0.7"/>
<line x1="254.72" y1="397.73" x2="260.12" y2="397.73" stroke="#888" stroke-width="0.7"/>
<line x1="268.16" y1="354.43" x2="273.56" y2="354.43" stroke="#555" stroke-width="0.7"/>
<line x1="273.96" y1="368.23" x2="279.36" y2="368.23" stroke="#888" stroke-width="0.7"/>
<line x1="287.41" y1="365.83" x2="292.81" y2="365.83" stroke="#555" stroke-width="0.7"/>
<line x1="293.21" y1="368.83" x2="298.61" y2="368.83" stroke="#888" stroke-width="0.7"/>
<line x1="306.66" y1="386.33" x2="312.06" y2="386.33" stroke="#555" stroke-width="0.7"/>
<line x1="312.46" y1="391.13" x2="317.86" y2="391.13" stroke="#888" stroke-width="0.7"/>
<line x1="325.90" y1="397.03" x2="331.31" y2="397.03" stroke="#555" stroke-width="0.7"/>
<line x1="331.70" y1="400.33" x2="337.11" y2="400.33" stroke="#888" stroke-width="0.7"/>
<line x1="345.15" y1="338.53" x2="350.55" y2="338.53" stroke="#555" stroke-width="0.7"/>
<line x1="350.95" y1="348.83" x2="356.35" y2="348.83" stroke="#888" stroke-width="0.7"/>
<line x1="364.40" y1="354.27" x2="369.80" y2="354.27" stroke="#555" stroke-width="0.7"/>
<line x1="370.20" y1="366.83" x2="375.60" y2="366.83" stroke="#888" stroke-width="0.7"/>
<line x1="383.65" y1="378.13" x2="389.05" y2="378.13" stroke="#555" stroke-width="0.7"/>
<line x1="389.45" y1="389.53" x2="394.85" y2="389.53" stroke="#888" stroke-width="0.7"/>
<line x1="402.89" y1="378.53" x2="408.29" y2="378.53" stroke="#555" stroke-width="0.7"/>
<line x1="408.69" y1="376.27" x2="414.09" y2="376.27" stroke="#888" stroke-width="0.7"/>
<line x1="422.14" y1="388.83" x2="427.54" y2="388.83" stroke="#555" stroke-width="0.7"/>
<line x1="427.94" y1="404.07" x2="433.34" y2="404.07" stroke="#888" stroke-width="0.7"/>
<line x1="441.39" y1="375.23" x2="446.79" y2="375.23" stroke="#555" stroke-width="0.7"/>
<line x1="447.19" y1="368.57" x2="452.59" y2="368.57" stroke="#888" stroke-width="0.7"/>
<line x1="460.63" y1="364.27" x2="466.03" y2="364.27" stroke="#555" stroke-width="0.7"/>
<line x1="466.43" y1="365.37" x2="471.83" y2="365.37" stroke="#888" stroke-width="0.7"/>
<line x1="479.88" y1="319.43" x2="485.28" y2="319.43" stroke="#555" stroke-width="0.7"/>
<line x1="485.68" y1="324.90" x2="491.08" y2="324.90" stroke="#888" stroke-width="0.7"/>
<line x1="499.13" y1="368.73" x2="504.53" y2="368.73" stroke="#555" stroke-width="0.7"/>
<line x1="504.93" y1="368.27" x2="510.33" y2="368.27" stroke="#888" stroke-width="0.7"/>
<line x1="518.38" y1="324.60" x2="523.77" y2="324.60" stroke="#555" stroke-width="0.7"/>
<line x1="524.18" y1="330.97" x2="529.58" y2="330.97" stroke="#888" stroke-width="0.7"/>
<line x1="537.62" y1="348.23" x2="543.02" y2="348.23" stroke="#555" stroke-width="0.7"/>
<line x1="543.42" y1="351.93" x2="548.82" y2="351.93" stroke="#888" stroke-width="0.7"/>
<line x1="556.87" y1="361.50" x2="562.27" y2="361.50" stroke="#555" stroke-width="0.7"/>
<line x1="562.67" y1="369.97" x2="568.07" y2="369.97" stroke="#888" stroke-width="0.7"/>
<line x1="576.12" y1="329.33" x2="581.52" y2="329.33" stroke="#555" stroke-width="0.7"/>
<line x1="581.92" y1="336.00" x2="587.32" y2="336.00" stroke="#888" stroke-width="0.7"/>
<line x1="595.36" y1="326.67" x2="600.76" y2="326.67" stroke="#555" stroke-width="0.7"/>
<line x1="601.16" y1="337.03" x2="606.56" y2="337.03" stroke="#888" stroke-width="0.7"/>
<line x1="614.61" y1="361.93" x2="620.01" y2="361.93" stroke="#555" stroke-width="0.7"/>
<line x1="620.41" y1="362.90" x2="625.81" y2="362.90" stroke="#888" stroke-width="0.7"/>
<line x1="633.86" y1="360.60" x2="639.26" y2="360.60" stroke="#555" stroke-width="0.7"/>
<line x1="639.66" y1="366.03" x2="645.06" y2="366.03" stroke="#888" stroke-width="0.7"/>
<line x1="653.10" y1="352.73" x2="658.50" y2="352.73" stroke="#555" stroke-width="0.7"/>
<line x1="658.90" y1="356.40" x2="664.30" y2="356.40" stroke="#888" stroke-width="0.7"/>
<circle cx="38.50" cy="386.50" r="1.65" fill="#111"/>
<circle cx="38.75" cy="389.70" r="1.65" fill="#111"/>
<circle cx="41.30" cy="388.10" r="1.65" fill="#111"/>
<circle cx="45.65" cy="384.60" r="1.65" fill="#b3121e"/>
<circle cx="45.65" cy="388.40" r="1.65" fill="#b3121e"/>
<circle cx="45.65" cy="395.30" r="1.65" fill="#b3121e"/>
<circle cx="58.00" cy="316.40" r="1.65" fill="#111"/>
<circle cx="59.50" cy="314.90" r="1.65" fill="#111"/>
<circle cx="61.00" cy="315.90" r="1.65" fill="#111"/>
<circle cx="63.50" cy="324.20" r="1.65" fill="#b3121e"/>
<circle cx="65.00" cy="322.70" r="1.65" fill="#b3121e"/>
<circle cx="66.50" cy="323.70" r="1.65" fill="#b3121e"/>
<circle cx="77.30" cy="302.60" r="1.65" fill="#111"/>
<circle cx="78.80" cy="301.10" r="1.65" fill="#111"/>
<circle cx="80.30" cy="302.10" r="1.65" fill="#111"/>
<circle cx="82.70" cy="311.40" r="1.65" fill="#b3121e"/>
<circle cx="84.20" cy="309.90" r="1.65" fill="#b3121e"/>
<circle cx="85.70" cy="310.90" r="1.65" fill="#b3121e"/>
<circle cx="96.50" cy="353.50" r="1.65" fill="#111"/>
<circle cx="98.00" cy="352.00" r="1.65" fill="#111"/>
<circle cx="99.50" cy="353.00" r="1.65" fill="#111"/>
<circle cx="102.00" cy="363.80" r="1.65" fill="#b3121e"/>
<circle cx="103.50" cy="362.30" r="1.65" fill="#b3121e"/>
<circle cx="105.00" cy="363.30" r="1.65" fill="#b3121e"/>
<circle cx="116.00" cy="330.00" r="1.65" fill="#111"/>
<circle cx="117.50" cy="328.50" r="1.65" fill="#111"/>
<circle cx="119.00" cy="329.50" r="1.65" fill="#111"/>
<circle cx="121.20" cy="335.90" r="1.65" fill="#b3121e"/>
<circle cx="122.70" cy="334.40" r="1.65" fill="#b3121e"/>
<circle cx="124.20" cy="335.40" r="1.65" fill="#b3121e"/>
<circle cx="134.70" cy="334.50" r="1.65" fill="#111"/>
<circle cx="136.20" cy="333.00" r="1.65" fill="#111"/>
<circle cx="137.70" cy="334.00" r="1.65" fill="#111"/>
<circle cx="140.30" cy="344.40" r="1.65" fill="#b3121e"/>
<circle cx="141.80" cy="342.90" r="1.65" fill="#b3121e"/>
<circle cx="143.30" cy="343.90" r="1.65" fill="#b3121e"/>
<circle cx="154.60" cy="382.30" r="1.65" fill="#111"/>
<circle cx="156.60" cy="382.80" r="1.65" fill="#111"/>
<circle cx="155.60" cy="386.20" r="1.65" fill="#111"/>
<circle cx="159.80" cy="389.70" r="1.65" fill="#b3121e"/>
<circle cx="161.30" cy="388.20" r="1.65" fill="#b3121e"/>
<circle cx="162.80" cy="389.20" r="1.65" fill="#b3121e"/>
<circle cx="173.60" cy="354.00" r="1.65" fill="#111"/>
<circle cx="175.20" cy="354.60" r="1.65" fill="#111"/>
<circle cx="174.00" cy="356.90" r="1.65" fill="#111"/>
<circle cx="179.00" cy="362.30" r="1.65" fill="#b3121e"/>
<circle cx="180.50" cy="360.80" r="1.65" fill="#b3121e"/>
<circle cx="182.00" cy="361.80" r="1.65" fill="#b3121e"/>
<circle cx="192.80" cy="318.60" r="1.65" fill="#111"/>
<circle cx="194.30" cy="317.10" r="1.65" fill="#111"/>
<circle cx="195.80" cy="318.10" r="1.65" fill="#111"/>
<circle cx="197.90" cy="329.40" r="1.65" fill="#b3121e"/>
<circle cx="199.40" cy="327.90" r="1.65" fill="#b3121e"/>
<circle cx="200.90" cy="328.90" r="1.65" fill="#b3121e"/>
<circle cx="212.00" cy="320.60" r="1.65" fill="#111"/>
<circle cx="213.60" cy="321.00" r="1.65" fill="#111"/>
<circle cx="212.30" cy="323.40" r="1.65" fill="#111"/>
<circle cx="217.30" cy="336.10" r="1.65" fill="#b3121e"/>
<circle cx="218.80" cy="334.60" r="1.65" fill="#b3121e"/>
<circle cx="220.30" cy="335.60" r="1.65" fill="#b3121e"/>
<circle cx="231.60" cy="349.60" r="1.65" fill="#111"/>
<circle cx="233.00" cy="350.60" r="1.65" fill="#111"/>
<circle cx="231.50" cy="352.90" r="1.65" fill="#111"/>
<circle cx="237.50" cy="361.10" r="1.65" fill="#b3121e"/>
<circle cx="238.60" cy="361.60" r="1.65" fill="#b3121e"/>
<circle cx="237.00" cy="363.20" r="1.65" fill="#b3121e"/>
<circle cx="250.50" cy="386.00" r="1.65" fill="#111"/>
<circle cx="252.00" cy="384.50" r="1.65" fill="#111"/>
<circle cx="253.50" cy="385.50" r="1.65" fill="#111"/>
<circle cx="256.00" cy="398.40" r="1.65" fill="#b3121e"/>
<circle cx="257.50" cy="396.90" r="1.65" fill="#b3121e"/>
<circle cx="259.00" cy="397.90" r="1.65" fill="#b3121e"/>
<circle cx="269.80" cy="355.10" r="1.65" fill="#111"/>
<circle cx="271.30" cy="353.60" r="1.65" fill="#111"/>
<circle cx="272.80" cy="354.60" r="1.65" fill="#111"/>
<circle cx="275.20" cy="368.90" r="1.65" fill="#b3121e"/>
<circle cx="276.70" cy="367.40" r="1.65" fill="#b3121e"/>
<circle cx="278.20" cy="368.40" r="1.65" fill="#b3121e"/>
<circle cx="289.90" cy="364.40" r="1.65" fill="#111"/>
<circle cx="291.40" cy="364.80" r="1.65" fill="#111"/>
<circle cx="290.50" cy="368.30" r="1.65" fill="#111"/>
<circle cx="294.50" cy="369.50" r="1.65" fill="#b3121e"/>
<circle cx="296.00" cy="368.00" r="1.65" fill="#b3121e"/>
<circle cx="297.50" cy="369.00" r="1.65" fill="#b3121e"/>
<circle cx="307.90" cy="387.00" r="1.65" fill="#111"/>
<circle cx="309.40" cy="385.50" r="1.65" fill="#111"/>
<circle cx="310.90" cy="386.50" r="1.65" fill="#111"/>
<circle cx="313.50" cy="391.80" r="1.65" fill="#b3121e"/>
<circle cx="315.00" cy="390.30" r="1.65" fill="#b3121e"/>
<circle cx="316.50" cy="391.30" r="1.65" fill="#b3121e"/>
<circle cx="327.10" cy="397.70" r="1.65" fill="#111"/>
<circle cx="328.60" cy="396.20" r="1.65" fill="#111"/>
<circle cx="330.10" cy="397.20" r="1.65" fill="#111"/>
<circle cx="332.60" cy="401.00" r="1.65" fill="#b3121e"/>
<circle cx="334.10" cy="399.50" r="1.65" fill="#b3121e"/>
<circle cx="335.60" cy="400.50" r="1.65" fill="#b3121e"/>
<circle cx="346.60" cy="339.20" r="1.65" fill="#111"/>
<circle cx="348.10" cy="337.70" r="1.65" fill="#111"/>
<circle cx="349.60" cy="338.70" r="1.65" fill="#111"/>
<circle cx="352.20" cy="349.50" r="1.65" fill="#b3121e"/>
<circle cx="353.70" cy="348.00" r="1.65" fill="#b3121e"/>
<circle cx="355.20" cy="349.00" r="1.65" fill="#b3121e"/>
<circle cx="366.40" cy="352.80" r="1.65" fill="#111"/>
<circle cx="367.90" cy="353.00" r="1.65" fill="#111"/>
<circle cx="367.40" cy="357.00" r="1.65" fill="#111"/>
<circle cx="371.40" cy="367.50" r="1.65" fill="#b3121e"/>
<circle cx="372.90" cy="366.00" r="1.65" fill="#b3121e"/>
<circle cx="374.40" cy="367.00" r="1.65" fill="#b3121e"/>
<circle cx="385.20" cy="378.80" r="1.65" fill="#111"/>
<circle cx="386.70" cy="377.30" r="1.65" fill="#111"/>
<circle cx="388.20" cy="378.30" r="1.65" fill="#111"/>
<circle cx="391.80" cy="390.30" r="1.65" fill="#b3121e"/>
<circle cx="391.00" cy="388.30" r="1.65" fill="#b3121e"/>
<circle cx="393.00" cy="390.00" r="1.65" fill="#b3121e"/>
<circle cx="404.60" cy="381.10" r="1.65" fill="#111"/>
<circle cx="406.20" cy="375.50" r="1.65" fill="#111"/>
<circle cx="407.20" cy="379.00" r="1.65" fill="#111"/>
<circle cx="410.10" cy="376.50" r="1.65" fill="#b3121e"/>
<circle cx="412.40" cy="376.30" r="1.65" fill="#b3121e"/>
<circle cx="411.20" cy="376.00" r="1.65" fill="#b3121e"/>
<circle cx="424.10" cy="386.80" r="1.65" fill="#111"/>
<circle cx="425.60" cy="387.30" r="1.65" fill="#111"/>
<circle cx="425.20" cy="392.40" r="1.65" fill="#111"/>
<circle cx="429.30" cy="400.60" r="1.65" fill="#b3121e"/>
<circle cx="432.00" cy="403.70" r="1.65" fill="#b3121e"/>
<circle cx="430.70" cy="407.90" r="1.65" fill="#b3121e"/>
<circle cx="443.70" cy="373.50" r="1.65" fill="#111"/>
<circle cx="443.70" cy="376.30" r="1.65" fill="#111"/>
<circle cx="445.30" cy="375.90" r="1.65" fill="#111"/>
<circle cx="449.30" cy="367.70" r="1.65" fill="#b3121e"/>
<circle cx="450.50" cy="369.70" r="1.65" fill="#b3121e"/>
<circle cx="451.00" cy="368.30" r="1.65" fill="#b3121e"/>
<circle cx="462.90" cy="364.20" r="1.65" fill="#111"/>
<circle cx="464.90" cy="364.60" r="1.65" fill="#111"/>
<circle cx="463.80" cy="364.00" r="1.65" fill="#111"/>
<circle cx="469.40" cy="363.20" r="1.65" fill="#b3121e"/>
<circle cx="469.00" cy="366.70" r="1.65" fill="#b3121e"/>
<circle cx="471.10" cy="366.20" r="1.65" fill="#b3121e"/>
<circle cx="481.30" cy="320.10" r="1.65" fill="#111"/>
<circle cx="482.80" cy="318.60" r="1.65" fill="#111"/>
<circle cx="484.30" cy="319.60" r="1.65" fill="#111"/>
<circle cx="488.00" cy="323.60" r="1.65" fill="#b3121e"/>
<circle cx="489.60" cy="324.00" r="1.65" fill="#b3121e"/>
<circle cx="488.40" cy="327.10" r="1.65" fill="#b3121e"/>
<circle cx="501.00" cy="366.50" r="1.65" fill="#111"/>
<circle cx="502.60" cy="366.90" r="1.65" fill="#111"/>
<circle cx="502.20" cy="372.80" r="1.65" fill="#111"/>
<circle cx="506.90" cy="366.70" r="1.65" fill="#b3121e"/>
<circle cx="508.60" cy="367.30" r="1.65" fill="#b3121e"/>
<circle cx="507.50" cy="370.80" r="1.65" fill="#b3121e"/>
<circle cx="521.30" cy="323.40" r="1.65" fill="#111"/>
<circle cx="520.30" cy="326.10" r="1.65" fill="#111"/>
<circle cx="522.30" cy="324.30" r="1.65" fill="#111"/>
<circle cx="526.90" cy="328.60" r="1.65" fill="#b3121e"/>
<circle cx="526.90" cy="332.30" r="1.65" fill="#b3121e"/>
<circle cx="528.00" cy="332.00" r="1.65" fill="#b3121e"/>
<circle cx="539.00" cy="348.90" r="1.65" fill="#111"/>
<circle cx="540.50" cy="347.40" r="1.65" fill="#111"/>
<circle cx="542.00" cy="348.40" r="1.65" fill="#111"/>
<circle cx="544.60" cy="352.60" r="1.65" fill="#b3121e"/>
<circle cx="546.10" cy="351.10" r="1.65" fill="#b3121e"/>
<circle cx="547.60" cy="352.10" r="1.65" fill="#b3121e"/>
<circle cx="558.40" cy="359.40" r="1.65" fill="#111"/>
<circle cx="558.40" cy="363.60" r="1.65" fill="#111"/>
<circle cx="561.10" cy="361.50" r="1.65" fill="#111"/>
<circle cx="565.20" cy="367.30" r="1.65" fill="#b3121e"/>
<circle cx="566.70" cy="370.20" r="1.65" fill="#b3121e"/>
<circle cx="564.20" cy="372.40" r="1.65" fill="#b3121e"/>
<circle cx="578.20" cy="327.60" r="1.65" fill="#111"/>
<circle cx="580.50" cy="328.10" r="1.65" fill="#111"/>
<circle cx="578.90" cy="332.30" r="1.65" fill="#111"/>
<circle cx="584.10" cy="333.50" r="1.65" fill="#b3121e"/>
<circle cx="585.90" cy="335.10" r="1.65" fill="#b3121e"/>
<circle cx="584.80" cy="339.40" r="1.65" fill="#b3121e"/>
<circle cx="598.10" cy="323.00" r="1.65" fill="#111"/>
<circle cx="598.10" cy="325.80" r="1.65" fill="#111"/>
<circle cx="598.10" cy="331.20" r="1.65" fill="#111"/>
<circle cx="604.00" cy="331.20" r="1.65" fill="#b3121e"/>
<circle cx="604.00" cy="338.20" r="1.65" fill="#b3121e"/>
<circle cx="604.00" cy="341.70" r="1.65" fill="#b3121e"/>
<circle cx="616.90" cy="360.90" r="1.65" fill="#111"/>
<circle cx="618.00" cy="363.30" r="1.65" fill="#111"/>
<circle cx="619.20" cy="361.60" r="1.65" fill="#111"/>
<circle cx="622.70" cy="362.80" r="1.65" fill="#b3121e"/>
<circle cx="624.40" cy="363.30" r="1.65" fill="#b3121e"/>
<circle cx="623.40" cy="362.60" r="1.65" fill="#b3121e"/>
<circle cx="636.80" cy="361.60" r="1.65" fill="#111"/>
<circle cx="637.50" cy="358.10" r="1.65" fill="#111"/>
<circle cx="638.70" cy="362.10" r="1.65" fill="#111"/>
<circle cx="641.50" cy="367.00" r="1.65" fill="#b3121e"/>
<circle cx="643.40" cy="365.10" r="1.65" fill="#b3121e"/>
<circle cx="642.00" cy="366.00" r="1.65" fill="#b3121e"/>
<circle cx="655.10" cy="350.60" r="1.65" fill="#111"/>
<circle cx="657.20" cy="352.30" r="1.65" fill="#111"/>
<circle cx="655.10" cy="355.30" r="1.65" fill="#111"/>
<circle cx="660.20" cy="356.50" r="1.65" fill="#b3121e"/>
<circle cx="662.60" cy="356.50" r="1.65" fill="#b3121e"/>
<circle cx="661.40" cy="356.20" r="1.65" fill="#b3121e"/>
<polygon points="59.47,282.50 60.11,284.03 61.75,284.16 60.50,285.23 60.88,286.84 59.47,285.98 58.06,286.84 58.44,285.23 57.19,284.16 58.84,284.03" fill="#333"/>
<polygon points="64.02,282.50 64.66,284.03 66.30,284.16 65.05,285.23 65.43,286.84 64.02,285.98 62.61,286.84 62.99,285.23 61.74,284.16 63.39,284.03" fill="#333"/>
<line x1="56.65" y1="288.40" x2="68.65" y2="288.40" stroke="#888" stroke-width="0.9"/>
<polygon points="76.44,282.50 77.08,284.03 78.73,284.16 77.47,285.23 77.85,286.84 76.44,285.98 75.03,286.84 75.42,285.23 74.16,284.16 75.81,284.03" fill="#333"/>
<polygon points="80.99,282.50 81.63,284.03 83.28,284.16 82.02,285.23 82.40,286.84 80.99,285.98 79.58,286.84 79.97,285.23 78.71,284.16 80.36,284.03" fill="#333"/>
<polygon points="85.54,282.50 86.18,284.03 87.83,284.16 86.57,285.23 86.95,286.84 85.54,285.98 84.13,286.84 84.52,285.23 83.26,284.16 84.91,284.03" fill="#333"/>
<line x1="75.89" y1="288.40" x2="87.89" y2="288.40" stroke="#888" stroke-width="0.9"/>
<polygon points="93.42,282.50 94.05,284.03 95.70,284.16 94.44,285.23 94.83,286.84 93.42,285.98 92.01,286.84 92.39,285.23 91.13,284.16 92.78,284.03" fill="#333"/>
<polygon points="97.97,282.50 98.60,284.03 100.25,284.16 98.99,285.23 99.38,286.84 97.97,285.98 96.56,286.84 96.94,285.23 95.68,284.16 97.33,284.03" fill="#333"/>
<polygon points="102.52,282.50 103.15,284.03 104.80,284.16 103.54,285.23 103.93,286.84 102.52,285.98 101.11,286.84 101.49,285.23 100.23,284.16 101.88,284.03" fill="#333"/>
<polygon points="107.07,282.50 107.70,284.03 109.35,284.16 108.09,285.23 108.48,286.84 107.07,285.98 105.66,286.84 106.04,285.23 104.78,284.16 106.43,284.03" fill="#333"/>
<line x1="95.14" y1="288.40" x2="107.14" y2="288.40" stroke="#888" stroke-width="0.9"/>
<polygon points="117.21,282.50 117.85,284.03 119.50,284.16 118.24,285.23 118.62,286.84 117.21,285.98 115.80,286.84 116.19,285.23 114.93,284.16 116.58,284.03" fill="#333"/>
<polygon points="121.76,282.50 122.40,284.03 124.05,284.16 122.79,285.23 123.17,286.84 121.76,285.98 120.35,286.84 120.74,285.23 119.48,284.16 121.13,284.03" fill="#333"/>
<line x1="114.39" y1="288.40" x2="126.39" y2="288.40" stroke="#888" stroke-width="0.9"/>
<polygon points="134.18,282.50 134.82,284.03 136.47,284.16 135.21,285.23 135.60,286.84 134.18,285.98 132.77,286.84 133.16,285.23 131.90,284.16 133.55,284.03" fill="#333"/>
<polygon points="138.73,282.50 139.37,284.03 141.02,284.16 139.76,285.23 140.15,286.84 138.73,285.98 137.32,286.84 137.71,285.23 136.45,284.16 138.10,284.03" fill="#333"/>
<polygon points="143.28,282.50 143.92,284.03 145.57,284.16 144.31,285.23 144.70,286.84 143.28,285.98 141.87,286.84 142.26,285.23 141.00,284.16 142.65,284.03" fill="#333"/>
<line x1="133.63" y1="288.40" x2="145.63" y2="288.40" stroke="#888" stroke-width="0.9"/>
<polygon points="157.98,282.50 158.62,284.03 160.26,284.16 159.01,285.23 159.39,286.84 157.98,285.98 156.57,286.84 156.95,285.23 155.70,284.16 157.35,284.03" fill="#333"/>
<line x1="152.88" y1="288.40" x2="164.88" y2="288.40" stroke="#888" stroke-width="0.9"/>
<polygon points="174.95,282.50 175.59,284.03 177.24,284.16 175.98,285.23 176.36,286.84 174.95,285.98 173.54,286.84 173.93,285.23 172.67,284.16 174.32,284.03" fill="#333"/>
<polygon points="179.50,282.50 180.14,284.03 181.79,284.16 180.53,285.23 180.91,286.84 179.50,285.98 178.09,286.84 178.48,285.23 177.22,284.16 178.87,284.03" fill="#333"/>
<line x1="172.13" y1="288.40" x2="184.13" y2="288.40" stroke="#888" stroke-width="0.9"/>
<polygon points="189.65,282.50 190.29,284.03 191.93,284.16 190.68,285.23 191.06,286.84 189.65,285.98 188.24,286.84 188.62,285.23 187.37,284.16 189.02,284.03" fill="#333"/>
<polygon points="194.20,282.50 194.84,284.03 196.48,284.16 195.23,285.23 195.61,286.84 194.20,285.98 192.79,286.84 193.17,285.23 191.92,284.16 193.57,284.03" fill="#333"/>
<polygon points="198.75,282.50 199.39,284.03 201.03,284.16 199.78,285.23 200.16,286.84 198.75,285.98 197.34,286.84 197.72,285.23 196.47,284.16 198.12,284.03" fill="#333"/>
<polygon points="203.30,282.50 203.94,284.03 205.58,284.16 204.33,285.23 204.71,286.84 203.30,285.98 201.89,286.84 202.27,285.23 201.02,284.16 202.67,284.03" fill="#333"/>
<line x1="191.38" y1="288.40" x2="203.38" y2="288.40" stroke="#888" stroke-width="0.9"/>
<polygon points="213.45,282.50 214.08,284.03 215.73,284.16 214.48,285.23 214.86,286.84 213.45,285.98 212.04,286.84 212.42,285.23 211.17,284.16 212.81,284.03" fill="#333"/>
<polygon points="218.00,282.50 218.63,284.03 220.28,284.16 219.03,285.23 219.41,286.84 218.00,285.98 216.59,286.84 216.97,285.23 215.72,284.16 217.36,284.03" fill="#333"/>
<line x1="210.62" y1="288.40" x2="222.62" y2="288.40" stroke="#888" stroke-width="0.9"/>
<polygon points="232.69,282.50 233.33,284.03 234.98,284.16 233.72,285.23 234.11,286.84 232.69,285.98 231.28,286.84 231.67,285.23 230.41,284.16 232.06,284.03" fill="#333"/>
<polygon points="237.24,282.50 237.88,284.03 239.53,284.16 238.27,285.23 238.66,286.84 237.24,285.98 235.83,286.84 236.22,285.23 234.96,284.16 236.61,284.03" fill="#333"/>
<line x1="229.87" y1="288.40" x2="241.87" y2="288.40" stroke="#888" stroke-width="0.9"/>
<polygon points="249.67,282.50 250.30,284.03 251.95,284.16 250.69,285.23 251.08,286.84 249.67,285.98 248.26,286.84 248.64,285.23 247.38,284.16 249.03,284.03" fill="#333"/>
<polygon points="254.22,282.50 254.85,284.03 256.50,284.16 255.24,285.23 255.63,286.84 254.22,285.98 252.81,286.84 253.19,285.23 251.93,284.16 253.58,284.03" fill="#333"/>
<polygon points="258.77,282.50 259.40,284.03 261.05,284.16 259.79,285.23 260.18,286.84 258.77,285.98 257.36,286.84 257.74,285.23 256.48,284.16 258.13,284.03" fill="#333"/>
<line x1="249.12" y1="288.40" x2="261.12" y2="288.40" stroke="#888" stroke-width="0.9"/>
<polygon points="266.64,282.50 267.27,284.03 268.92,284.16 267.67,285.23 268.05,286.84 266.64,285.98 265.23,286.84 265.61,285.23 264.36,284.16 266.00,284.03" fill="#333"/>
<polygon points="271.19,282.50 271.82,284.03 273.47,284.16 272.22,285.23 272.60,286.84 271.19,285.98 269.78,286.84 270.16,285.23 268.91,284.16 270.55,284.03" fill="#333"/>
<polygon points="275.74,282.50 276.37,284.03 278.02,284.16 276.77,285.23 277.15,286.84 275.74,285.98 274.33,286.84 274.71,285.23 273.46,284.16 275.10,284.03" fill="#333"/>
<polygon points="280.29,282.50 280.92,284.03 282.57,284.16 281.32,285.23 281.70,286.84 280.29,285.98 278.88,286.84 279.26,285.23 278.01,284.16 279.65,284.03" fill="#333"/>
<line x1="268.36" y1="288.40" x2="280.36" y2="288.40" stroke="#888" stroke-width="0.9"/>
<polygon points="309.68,282.50 310.32,284.03 311.97,284.16 310.71,285.23 311.09,286.84 309.68,285.98 308.27,286.84 308.66,285.23 307.40,284.16 309.05,284.03" fill="#333"/>
<polygon points="314.23,282.50 314.87,284.03 316.52,284.16 315.26,285.23 315.64,286.84 314.23,285.98 312.82,286.84 313.21,285.23 311.95,284.16 313.60,284.03" fill="#333"/>
<line x1="306.86" y1="288.40" x2="318.86" y2="288.40" stroke="#888" stroke-width="0.9"/>
<polygon points="328.93,282.50 329.56,284.03 331.21,284.16 329.96,285.23 330.34,286.84 328.93,285.98 327.52,286.84 327.90,285.23 326.65,284.16 328.30,284.03" fill="#333"/>
<polygon points="333.48,282.50 334.11,284.03 335.76,284.16 334.51,285.23 334.89,286.84 333.48,285.98 332.07,286.84 332.45,285.23 331.20,284.16 332.85,284.03" fill="#333"/>
<line x1="326.11" y1="288.40" x2="338.11" y2="288.40" stroke="#888" stroke-width="0.9"/>
<polygon points="345.90,282.50 346.54,284.03 348.18,284.16 346.93,285.23 347.31,286.84 345.90,285.98 344.49,286.84 344.87,285.23 343.62,284.16 345.27,284.03" fill="#333"/>
<polygon points="350.45,282.50 351.09,284.03 352.73,284.16 351.48,285.23 351.86,286.84 350.45,285.98 349.04,286.84 349.42,285.23 348.17,284.16 349.82,284.03" fill="#333"/>
<polygon points="355.00,282.50 355.64,284.03 357.28,284.16 356.03,285.23 356.41,286.84 355.00,285.98 353.59,286.84 353.97,285.23 352.72,284.16 354.37,284.03" fill="#333"/>
<line x1="345.35" y1="288.40" x2="357.35" y2="288.40" stroke="#888" stroke-width="0.9"/>
<polygon points="367.42,282.50 368.06,284.03 369.71,284.16 368.45,285.23 368.83,286.84 367.42,285.98 366.01,286.84 366.40,285.23 365.14,284.16 366.79,284.03" fill="#333"/>
<polygon points="371.97,282.50 372.61,284.03 374.26,284.16 373.00,285.23 373.38,286.84 371.97,285.98 370.56,286.84 370.95,285.23 369.69,284.16 371.34,284.03" fill="#333"/>
<line x1="364.60" y1="288.40" x2="376.60" y2="288.40" stroke="#888" stroke-width="0.9"/>
<polygon points="386.67,282.50 387.31,284.03 388.95,284.16 387.70,285.23 388.08,286.84 386.67,285.98 385.26,286.84 385.64,285.23 384.39,284.16 386.04,284.03" fill="#333"/>
<polygon points="391.22,282.50 391.86,284.03 393.50,284.16 392.25,285.23 392.63,286.84 391.22,285.98 389.81,286.84 390.19,285.23 388.94,284.16 390.59,284.03" fill="#333"/>
<line x1="383.85" y1="288.40" x2="395.85" y2="288.40" stroke="#888" stroke-width="0.9"/>
<polygon points="425.17,282.50 425.80,284.03 427.45,284.16 426.19,285.23 426.58,286.84 425.17,285.98 423.75,286.84 424.14,285.23 422.88,284.16 424.53,284.03" fill="#333"/>
<polygon points="429.72,282.50 430.35,284.03 432.00,284.16 430.74,285.23 431.13,286.84 429.72,285.98 428.30,286.84 428.69,285.23 427.43,284.16 429.08,284.03" fill="#333"/>
<line x1="422.34" y1="288.40" x2="434.34" y2="288.40" stroke="#888" stroke-width="0.9"/>
<polygon points="444.41,282.50 445.05,284.03 446.69,284.16 445.44,285.23 445.82,286.84 444.41,285.98 443.00,286.84 443.38,285.23 442.13,284.16 443.78,284.03" fill="#333"/>
<polygon points="448.96,282.50 449.60,284.03 451.24,284.16 449.99,285.23 450.37,286.84 448.96,285.98 447.55,286.84 447.93,285.23 446.68,284.16 448.33,284.03" fill="#333"/>
<line x1="441.59" y1="288.40" x2="453.59" y2="288.40" stroke="#888" stroke-width="0.9"/>
<polygon points="485.18,282.50 485.82,284.03 487.46,284.16 486.21,285.23 486.59,286.84 485.18,285.98 483.77,286.84 484.15,285.23 482.90,284.16 484.55,284.03" fill="#333"/>
<line x1="480.08" y1="288.40" x2="492.08" y2="288.40" stroke="#888" stroke-width="0.9"/>
<polygon points="523.68,282.50 524.31,284.03 525.96,284.16 524.70,285.23 525.09,286.84 523.68,285.98 522.26,286.84 522.65,285.23 521.39,284.16 523.04,284.03" fill="#333"/>
<line x1="518.58" y1="288.40" x2="530.58" y2="288.40" stroke="#888" stroke-width="0.9"/>
<polygon points="540.65,282.50 541.28,284.03 542.93,284.16 541.67,285.23 542.06,286.84 540.65,285.98 539.24,286.84 539.62,285.23 538.36,284.16 540.01,284.03" fill="#333"/>
<polygon points="545.20,282.50 545.83,284.03 547.48,284.16 546.22,285.23 546.61,286.84 545.20,285.98 543.79,286.84 544.17,285.23 542.91,284.16 544.56,284.03" fill="#333"/>
<line x1="537.82" y1="288.40" x2="549.82" y2="288.40" stroke="#888" stroke-width="0.9"/>
<polygon points="562.17,282.50 562.80,284.03 564.45,284.16 563.20,285.23 563.58,286.84 562.17,285.98 560.76,286.84 561.14,285.23 559.89,284.16 561.53,284.03" fill="#333"/>
<line x1="557.07" y1="288.40" x2="569.07" y2="288.40" stroke="#888" stroke-width="0.9"/>
<polygon points="581.42,282.50 582.05,284.03 583.70,284.16 582.44,285.23 582.83,286.84 581.42,285.98 580.01,286.84 580.39,285.23 579.13,284.16 580.78,284.03" fill="#333"/>
<line x1="576.32" y1="288.40" x2="588.32" y2="288.40" stroke="#888" stroke-width="0.9"/>
<polygon points="639.16,282.50 639.79,284.03 641.44,284.16 640.18,285.23 640.57,286.84 639.16,285.98 637.75,286.84 638.13,285.23 636.87,284.16 638.52,284.03" fill="#333"/>
<line x1="634.06" y1="288.40" x2="646.06" y2="288.40" stroke="#888" stroke-width="0.9"/>
<circle cx="627.40" cy="303.50" r="1.5" fill="#111"/>
<circle cx="627.40" cy="317.80" r="1.5" fill="#b3121e"/>
<text x="631.40" y="306.60" font-size="8.5" textLength="14.60" lengthAdjust="spacingAndGlyphs">Ctrl</text>
<text x="631.40" y="320.60" font-size="8.5" textLength="43.40" lengthAdjust="spacingAndGlyphs">COASY KO</text>
<text x="184.90" y="555.40" font-size="12.5" fill="#111" font-weight="bold" stroke="#111" stroke-width="0.45">g</text>
<text x="215.00" y="558.60" font-size="8.5" textLength="27.80" lengthAdjust="spacingAndGlyphs">CoASH</text>
<line x1="213.80" y1="573.80" x2="213.80" y2="654.10" stroke="#9a9a9a" stroke-width="1"/>
<line x1="213.80" y1="654.10" x2="244.10" y2="654.10" stroke="#9a9a9a" stroke-width="1"/>
<line x1="210.40" y1="654.10" x2="213.80" y2="654.10" stroke="#9a9a9a" stroke-width="1"/>
<text x="208.20" y="656.80" font-size="7.6" text-anchor="end" fill="#333" textLength="4.10" lengthAdjust="spacingAndGlyphs">0</text>
<line x1="210.40" y1="638.04" x2="213.80" y2="638.04" stroke="#9a9a9a" stroke-width="1"/>
<text x="208.20" y="640.74" font-size="7.6" text-anchor="end" fill="#333" textLength="4.10" lengthAdjust="spacingAndGlyphs">4</text>
<line x1="210.40" y1="621.98" x2="213.80" y2="621.98" stroke="#9a9a9a" stroke-width="1"/>
<text x="208.20" y="624.68" font-size="7.6" text-anchor="end" fill="#333" textLength="4.10" lengthAdjust="spacingAndGlyphs">8</text>
<line x1="210.40" y1="605.92" x2="213.80" y2="605.92" stroke="#9a9a9a" stroke-width="1"/>
<text x="208.20" y="608.62" font-size="7.6" text-anchor="end" fill="#333" textLength="8.20" lengthAdjust="spacingAndGlyphs">12</text>
<line x1="210.40" y1="589.86" x2="213.80" y2="589.86" stroke="#9a9a9a" stroke-width="1"/>
<text x="208.20" y="592.56" font-size="7.6" text-anchor="end" fill="#333" textLength="8.20" lengthAdjust="spacingAndGlyphs">16</text>
<line x1="210.40" y1="573.80" x2="213.80" y2="573.80" stroke="#9a9a9a" stroke-width="1"/>
<text x="208.20" y="576.50" font-size="7.6" text-anchor="end" fill="#333" textLength="8.20" lengthAdjust="spacingAndGlyphs">20</text>
<text x="209.30" y="571.60" font-size="6.6" fill="#333" textLength="9.6" lengthAdjust="spacingAndGlyphs">×10</text>
<text x="219.10" y="568.90" font-size="4.6" fill="#333">6</text>
<line x1="221.90" y1="654.10" x2="221.90" y2="657.10" stroke="#9a9a9a" stroke-width="1"/>
<text x="224.50" y="660.30" font-size="8.6" text-anchor="end" textLength="15.20" lengthAdjust="spacingAndGlyphs" transform="rotate(-90 224.50 660.30)">Ctrl</text>
<line x1="235.40" y1="654.10" x2="235.40" y2="657.10" stroke="#9a9a9a" stroke-width="1"/>
<text x="238.00" y="660.30" font-size="8.6" text-anchor="end" textLength="45.00" lengthAdjust="spacingAndGlyphs" transform="rotate(-90 238.00 660.30)">COASY KO</text>
<line x1="221.90" y1="593.10" x2="221.90" y2="603.40" stroke="#222" stroke-width="0.7"/>
<line x1="219.40" y1="593.10" x2="224.40" y2="593.10" stroke="#222" stroke-width="0.7"/>
<line x1="219.40" y1="603.40" x2="224.40" y2="603.40" stroke="#222" stroke-width="0.7"/>
<line x1="235.40" y1="620.00" x2="235.40" y2="625.90" stroke="#b3121e" stroke-width="0.7"/>
<line x1="232.90" y1="620.00" x2="237.90" y2="620.00" stroke="#b3121e" stroke-width="0.7"/>
<line x1="232.90" y1="625.90" x2="237.90" y2="625.90" stroke="#b3121e" stroke-width="0.7"/>
<circle cx="221.90" cy="593.60" r="1.1" fill="#111"/>
<circle cx="221.90" cy="598.20" r="1.1" fill="#111"/>
<circle cx="221.90" cy="603.40" r="1.1" fill="#111"/>
<circle cx="235.40" cy="620.40" r="1.1" fill="#b3121e"/>
<circle cx="235.40" cy="625.70" r="1.1" fill="#b3121e"/>
<line x1="217.30" y1="598.20" x2="226.50" y2="598.20" stroke="#333" stroke-width="0.8"/>
<line x1="230.80" y1="622.70" x2="240.00" y2="622.70" stroke="#444" stroke-width="0.8"/>
<polygon points="226.42,573.40 227.06,574.93 228.71,575.06 227.45,576.13 227.84,577.74 226.42,576.88 225.01,577.74 225.40,576.13 224.14,575.06 225.79,574.93" fill="#333"/>
<polygon points="230.97,573.40 231.61,574.93 233.26,575.06 232.00,576.13 232.39,577.74 230.97,576.88 229.56,577.74 229.95,576.13 228.69,575.06 230.34,574.93" fill="#333"/>
<line x1="221.50" y1="579.60" x2="235.90" y2="579.60" stroke="#8a8a8a" stroke-width="0.9"/>
<text x="191.00" y="643.25" font-size="8.3" textLength="58.60" lengthAdjust="spacingAndGlyphs" transform="rotate(-90 191.00 643.25)">Intensity (A.U.)</text>
<text x="279.00" y="558.60" font-size="8.5" textLength="44.20" lengthAdjust="spacingAndGlyphs">Acetyl-CoA</text>
<line x1="286.00" y1="573.80" x2="286.00" y2="654.10" stroke="#9a9a9a" stroke-width="1"/>
<line x1="286.00" y1="654.10" x2="316.80" y2="654.10" stroke="#9a9a9a" stroke-width="1"/>
<line x1="282.60" y1="654.10" x2="286.00" y2="654.10" stroke="#9a9a9a" stroke-width="1"/>
<text x="280.40" y="656.80" font-size="7.6" text-anchor="end" fill="#333" textLength="4.10" lengthAdjust="spacingAndGlyphs">0</text>
<line x1="282.60" y1="638.04" x2="286.00" y2="638.04" stroke="#9a9a9a" stroke-width="1"/>
<text x="280.40" y="640.74" font-size="7.6" text-anchor="end" fill="#333" textLength="4.10" lengthAdjust="spacingAndGlyphs">1</text>
<line x1="282.60" y1="621.98" x2="286.00" y2="621.98" stroke="#9a9a9a" stroke-width="1"/>
<text x="280.40" y="624.68" font-size="7.6" text-anchor="end" fill="#333" textLength="4.10" lengthAdjust="spacingAndGlyphs">2</text>
<line x1="282.60" y1="605.92" x2="286.00" y2="605.92" stroke="#9a9a9a" stroke-width="1"/>
<text x="280.40" y="608.62" font-size="7.6" text-anchor="end" fill="#333" textLength="4.10" lengthAdjust="spacingAndGlyphs">3</text>
<line x1="282.60" y1="589.86" x2="286.00" y2="589.86" stroke="#9a9a9a" stroke-width="1"/>
<text x="280.40" y="592.56" font-size="7.6" text-anchor="end" fill="#333" textLength="4.10" lengthAdjust="spacingAndGlyphs">4</text>
<line x1="282.60" y1="573.80" x2="286.00" y2="573.80" stroke="#9a9a9a" stroke-width="1"/>
<text x="280.40" y="576.50" font-size="7.6" text-anchor="end" fill="#333" textLength="4.10" lengthAdjust="spacingAndGlyphs">5</text>
<text x="281.50" y="571.60" font-size="6.6" fill="#333" textLength="9.6" lengthAdjust="spacingAndGlyphs">×10</text>
<text x="291.30" y="568.90" font-size="4.6" fill="#333">7</text>
<line x1="294.10" y1="654.10" x2="294.10" y2="657.10" stroke="#9a9a9a" stroke-width="1"/>
<text x="296.70" y="660.30" font-size="8.6" text-anchor="end" textLength="15.20" lengthAdjust="spacingAndGlyphs" transform="rotate(-90 296.70 660.30)">Ctrl</text>
<line x1="307.80" y1="654.10" x2="307.80" y2="657.10" stroke="#9a9a9a" stroke-width="1"/>
<text x="310.40" y="660.30" font-size="8.6" text-anchor="end" textLength="45.00" lengthAdjust="spacingAndGlyphs" transform="rotate(-90 310.40 660.30)">COASY KO</text>
<line x1="294.10" y1="590.00" x2="294.10" y2="598.40" stroke="#222" stroke-width="0.7"/>
<line x1="291.60" y1="590.00" x2="296.60" y2="590.00" stroke="#222" stroke-width="0.7"/>
<line x1="291.60" y1="598.40" x2="296.60" y2="598.40" stroke="#222" stroke-width="0.7"/>
<circle cx="294.10" cy="590.10" r="1.1" fill="#111"/>
<circle cx="294.10" cy="598.20" r="1.1" fill="#111"/>
<circle cx="295.20" cy="592.50" r="1.1" fill="#111"/>
<circle cx="306.60" cy="622.20" r="1.1" fill="#b3121e"/>
<circle cx="308.00" cy="622.00" r="1.1" fill="#b3121e"/>
<line x1="289.50" y1="594.00" x2="298.70" y2="594.00" stroke="#333" stroke-width="0.8"/>
<line x1="303.20" y1="622.20" x2="312.40" y2="622.20" stroke="#444" stroke-width="0.8"/>
<polygon points="296.55,573.40 297.18,574.93 298.83,575.06 297.58,576.13 297.96,577.74 296.55,576.88 295.14,577.74 295.52,576.13 294.27,575.06 295.92,574.93" fill="#333"/>
<polygon points="301.10,573.40 301.73,574.93 303.38,575.06 302.13,576.13 302.51,577.74 301.10,576.88 299.69,577.74 300.07,576.13 298.82,575.06 300.47,574.93" fill="#333"/>
<polygon points="305.65,573.40 306.28,574.93 307.93,575.06 306.68,576.13 307.06,577.74 305.65,576.88 304.24,577.74 304.62,576.13 303.37,575.06 305.02,574.93" fill="#333"/>
<line x1="294.10" y1="579.60" x2="308.10" y2="579.60" stroke="#8a8a8a" stroke-width="0.9"/>
<text x="266.80" y="643.25" font-size="8.3" textLength="58.60" lengthAdjust="spacingAndGlyphs" transform="rotate(-90 266.80 643.25)">Intensity (A.U.)</text>
<text x="336.80" y="558.60" font-size="8.5" textLength="77.60" lengthAdjust="spacingAndGlyphs">Succinyl/MMA-CoA</text>
<line x1="360.10" y1="573.80" x2="360.10" y2="654.10" stroke="#9a9a9a" stroke-width="1"/>
<line x1="360.10" y1="654.10" x2="390.80" y2="654.10" stroke="#9a9a9a" stroke-width="1"/>
<line x1="356.70" y1="654.10" x2="360.10" y2="654.10" stroke="#9a9a9a" stroke-width="1"/>
<text x="354.50" y="656.80" font-size="7.6" text-anchor="end" fill="#333" textLength="4.10" lengthAdjust="spacingAndGlyphs">0</text>
<line x1="356.70" y1="627.33" x2="360.10" y2="627.33" stroke="#9a9a9a" stroke-width="1"/>
<text x="354.50" y="630.03" font-size="7.6" text-anchor="end" fill="#333" textLength="4.10" lengthAdjust="spacingAndGlyphs">5</text>
<line x1="356.70" y1="600.57" x2="360.10" y2="600.57" stroke="#9a9a9a" stroke-width="1"/>
<text x="354.50" y="603.27" font-size="7.6" text-anchor="end" fill="#333" textLength="8.20" lengthAdjust="spacingAndGlyphs">10</text>
<line x1="356.70" y1="573.80" x2="360.10" y2="573.80" stroke="#9a9a9a" stroke-width="1"/>
<text x="354.50" y="576.50" font-size="7.6" text-anchor="end" fill="#333" textLength="8.20" lengthAdjust="spacingAndGlyphs">15</text>
<text x="355.60" y="571.60" font-size="6.6" fill="#333" textLength="9.6" lengthAdjust="spacingAndGlyphs">×10</text>
<text x="365.40" y="568.90" font-size="4.6" fill="#333">6</text>
<line x1="368.70" y1="654.10" x2="368.70" y2="657.10" stroke="#9a9a9a" stroke-width="1"/>
<text x="371.30" y="660.30" font-size="8.6" text-anchor="end" textLength="15.20" lengthAdjust="spacingAndGlyphs" transform="rotate(-90 371.30 660.30)">Ctrl</text>
<line x1="382.70" y1="654.10" x2="382.70" y2="657.10" stroke="#9a9a9a" stroke-width="1"/>
<text x="385.30" y="660.30" font-size="8.6" text-anchor="end" textLength="45.00" lengthAdjust="spacingAndGlyphs" transform="rotate(-90 385.30 660.30)">COASY KO</text>
<line x1="368.70" y1="590.60" x2="368.70" y2="594.40" stroke="#222" stroke-width="0.7"/>
<line x1="366.20" y1="590.60" x2="371.20" y2="590.60" stroke="#222" stroke-width="0.7"/>
<line x1="366.20" y1="594.40" x2="371.20" y2="594.40" stroke="#222" stroke-width="0.7"/>
<line x1="382.70" y1="624.00" x2="382.70" y2="627.00" stroke="#b3121e" stroke-width="0.7"/>
<line x1="380.20" y1="624.00" x2="385.20" y2="624.00" stroke="#b3121e" stroke-width="0.7"/>
<line x1="380.20" y1="627.00" x2="385.20" y2="627.00" stroke="#b3121e" stroke-width="0.7"/>
<circle cx="368.00" cy="590.80" r="1.1" fill="#111"/>
<circle cx="369.40" cy="594.00" r="1.1" fill="#111"/>
<circle cx="368.70" cy="592.40" r="1.1" fill="#111"/>
<circle cx="382.70" cy="624.30" r="1.1" fill="#b3121e"/>
<circle cx="382.70" cy="626.70" r="1.1" fill="#b3121e"/>
<line x1="364.10" y1="592.40" x2="373.30" y2="592.40" stroke="#333" stroke-width="0.8"/>
<line x1="378.10" y1="625.50" x2="387.30" y2="625.50" stroke="#444" stroke-width="0.8"/>
<polygon points="369.57,572.90 370.21,574.43 371.86,574.56 370.60,575.63 370.99,577.24 369.57,576.38 368.16,577.24 368.55,575.63 367.29,574.56 368.94,574.43" fill="#333"/>
<polygon points="374.12,572.90 374.76,574.43 376.41,574.56 375.15,575.63 375.54,577.24 374.12,576.38 372.71,577.24 373.10,575.63 371.84,574.56 373.49,574.43" fill="#333"/>
<polygon points="378.68,572.90 379.31,574.43 380.96,574.56 379.70,575.63 380.09,577.24 378.68,576.38 377.26,577.24 377.65,575.63 376.39,574.56 378.04,574.43" fill="#333"/>
<polygon points="383.22,572.90 383.86,574.43 385.51,574.56 384.25,575.63 384.64,577.24 383.22,576.38 381.81,577.24 382.20,575.63 380.94,574.56 382.59,574.43" fill="#333"/>
<line x1="369.40" y1="579.10" x2="383.40" y2="579.10" stroke="#8a8a8a" stroke-width="0.9"/>
<text x="337.40" y="643.25" font-size="8.3" textLength="58.60" lengthAdjust="spacingAndGlyphs" transform="rotate(-90 337.40 643.25)">Intensity (A.U.)</text>
<text x="435.80" y="558.60" font-size="8.5" textLength="38.80" lengthAdjust="spacingAndGlyphs">C5:0-CoA</text>
<line x1="438.40" y1="573.80" x2="438.40" y2="654.10" stroke="#9a9a9a" stroke-width="1"/>
<line x1="438.40" y1="654.10" x2="464.70" y2="654.10" stroke="#9a9a9a" stroke-width="1"/>
<line x1="435.00" y1="654.10" x2="438.40" y2="654.10" stroke="#9a9a9a" stroke-width="1"/>
<text x="432.80" y="656.80" font-size="7.6" text-anchor="end" fill="#333" textLength="4.10" lengthAdjust="spacingAndGlyphs">0</text>
<line x1="435.00" y1="627.33" x2="438.40" y2="627.33" stroke="#9a9a9a" stroke-width="1"/>
<text x="432.80" y="630.03" font-size="7.6" text-anchor="end" fill="#333" textLength="4.10" lengthAdjust="spacingAndGlyphs">4</text>
<line x1="435.00" y1="600.57" x2="438.40" y2="600.57" stroke="#9a9a9a" stroke-width="1"/>
<text x="432.80" y="603.27" font-size="7.6" text-anchor="end" fill="#333" textLength="4.10" lengthAdjust="spacingAndGlyphs">8</text>
<line x1="435.00" y1="573.80" x2="438.40" y2="573.80" stroke="#9a9a9a" stroke-width="1"/>
<text x="432.80" y="576.50" font-size="7.6" text-anchor="end" fill="#333" textLength="8.20" lengthAdjust="spacingAndGlyphs">12</text>
<text x="433.90" y="571.60" font-size="6.6" fill="#333" textLength="9.6" lengthAdjust="spacingAndGlyphs">×10</text>
<text x="443.70" y="568.90" font-size="4.6" fill="#333">6</text>
<line x1="448.40" y1="654.10" x2="448.40" y2="657.10" stroke="#9a9a9a" stroke-width="1"/>
<text x="451.00" y="660.30" font-size="8.6" text-anchor="end" textLength="15.20" lengthAdjust="spacingAndGlyphs" transform="rotate(-90 451.00 660.30)">Ctrl</text>
<line x1="461.70" y1="654.10" x2="461.70" y2="657.10" stroke="#9a9a9a" stroke-width="1"/>
<text x="464.30" y="660.30" font-size="8.6" text-anchor="end" textLength="45.00" lengthAdjust="spacingAndGlyphs" transform="rotate(-90 464.30 660.30)">COASY KO</text>
<line x1="448.40" y1="583.10" x2="448.40" y2="602.40" stroke="#222" stroke-width="0.7"/>
<line x1="445.90" y1="583.10" x2="450.90" y2="583.10" stroke="#222" stroke-width="0.7"/>
<line x1="445.90" y1="602.40" x2="450.90" y2="602.40" stroke="#222" stroke-width="0.7"/>
<line x1="461.70" y1="631.00" x2="461.70" y2="635.40" stroke="#b3121e" stroke-width="0.7"/>
<line x1="459.20" y1="631.00" x2="464.20" y2="631.00" stroke="#b3121e" stroke-width="0.7"/>
<line x1="459.20" y1="635.40" x2="464.20" y2="635.40" stroke="#b3121e" stroke-width="0.7"/>
<circle cx="448.40" cy="585.40" r="1.1" fill="#111"/>
<circle cx="448.40" cy="588.20" r="1.1" fill="#111"/>
<circle cx="448.40" cy="601.00" r="1.1" fill="#111"/>
<circle cx="461.70" cy="631.30" r="1.1" fill="#b3121e"/>
<circle cx="461.70" cy="635.00" r="1.1" fill="#b3121e"/>
<line x1="443.80" y1="592.40" x2="453.00" y2="592.40" stroke="#333" stroke-width="0.8"/>
<line x1="457.10" y1="633.60" x2="466.30" y2="633.60" stroke="#444" stroke-width="0.8"/>
<polygon points="453.48,572.90 454.11,574.43 455.76,574.56 454.50,575.63 454.89,577.24 453.48,576.38 452.06,577.24 452.45,575.63 451.19,574.56 452.84,574.43" fill="#333"/>
<polygon points="458.03,572.90 458.66,574.43 460.31,574.56 459.05,575.63 459.44,577.24 458.03,576.38 456.61,577.24 457.00,575.63 455.74,574.56 457.39,574.43" fill="#333"/>
<line x1="448.40" y1="579.10" x2="463.10" y2="579.10" stroke="#8a8a8a" stroke-width="0.9"/>
<text x="418.40" y="643.25" font-size="8.3" textLength="58.60" lengthAdjust="spacingAndGlyphs" transform="rotate(-90 418.40 643.25)">Intensity (A.U.)</text>
<text x="503.40" y="558.60" font-size="8.5" textLength="42.00" lengthAdjust="spacingAndGlyphs">C16:0-CoA</text>
<line x1="509.00" y1="573.80" x2="509.00" y2="654.10" stroke="#9a9a9a" stroke-width="1"/>
<line x1="509.00" y1="654.10" x2="537.60" y2="654.10" stroke="#9a9a9a" stroke-width="1"/>
<line x1="505.60" y1="654.10" x2="509.00" y2="654.10" stroke="#9a9a9a" stroke-width="1"/>
<text x="503.40" y="656.80" font-size="7.6" text-anchor="end" fill="#333" textLength="4.10" lengthAdjust="spacingAndGlyphs">0</text>
<line x1="505.60" y1="638.04" x2="509.00" y2="638.04" stroke="#9a9a9a" stroke-width="1"/>
<text x="503.40" y="640.74" font-size="7.6" text-anchor="end" fill="#333" textLength="4.10" lengthAdjust="spacingAndGlyphs">2</text>
<line x1="505.60" y1="621.98" x2="509.00" y2="621.98" stroke="#9a9a9a" stroke-width="1"/>
<text x="503.40" y="624.68" font-size="7.6" text-anchor="end" fill="#333" textLength="4.10" lengthAdjust="spacingAndGlyphs">4</text>
<line x1="505.60" y1="605.92" x2="509.00" y2="605.92" stroke="#9a9a9a" stroke-width="1"/>
<text x="503.40" y="608.62" font-size="7.6" text-anchor="end" fill="#333" textLength="4.10" lengthAdjust="spacingAndGlyphs">6</text>
<line x1="505.60" y1="589.86" x2="509.00" y2="589.86" stroke="#9a9a9a" stroke-width="1"/>
<text x="503.40" y="592.56" font-size="7.6" text-anchor="end" fill="#333" textLength="4.10" lengthAdjust="spacingAndGlyphs">8</text>
<line x1="505.60" y1="573.80" x2="509.00" y2="573.80" stroke="#9a9a9a" stroke-width="1"/>
<text x="503.40" y="576.50" font-size="7.6" text-anchor="end" fill="#333" textLength="8.20" lengthAdjust="spacingAndGlyphs">10</text>
<text x="504.50" y="571.60" font-size="6.6" fill="#333" textLength="9.6" lengthAdjust="spacingAndGlyphs">×10</text>
<text x="514.30" y="568.90" font-size="4.6" fill="#333">6</text>
<line x1="518.30" y1="654.10" x2="518.30" y2="657.10" stroke="#9a9a9a" stroke-width="1"/>
<text x="520.90" y="660.30" font-size="8.6" text-anchor="end" textLength="15.20" lengthAdjust="spacingAndGlyphs" transform="rotate(-90 520.90 660.30)">Ctrl</text>
<line x1="532.30" y1="654.10" x2="532.30" y2="657.10" stroke="#9a9a9a" stroke-width="1"/>
<text x="534.90" y="660.30" font-size="8.6" text-anchor="end" textLength="45.00" lengthAdjust="spacingAndGlyphs" transform="rotate(-90 534.90 660.30)">COASY KO</text>
<line x1="518.30" y1="588.90" x2="518.30" y2="602.90" stroke="#222" stroke-width="0.7"/>
<line x1="515.80" y1="588.90" x2="520.80" y2="588.90" stroke="#222" stroke-width="0.7"/>
<line x1="515.80" y1="602.90" x2="520.80" y2="602.90" stroke="#222" stroke-width="0.7"/>
<line x1="532.30" y1="611.00" x2="532.30" y2="623.90" stroke="#b3121e" stroke-width="0.7"/>
<line x1="529.80" y1="611.00" x2="534.80" y2="611.00" stroke="#b3121e" stroke-width="0.7"/>
<line x1="529.80" y1="623.90" x2="534.80" y2="623.90" stroke="#b3121e" stroke-width="0.7"/>
<circle cx="518.30" cy="590.10" r="1.1" fill="#111"/>
<circle cx="518.30" cy="594.00" r="1.1" fill="#111"/>
<circle cx="518.30" cy="602.90" r="1.1" fill="#111"/>
<circle cx="532.30" cy="612.20" r="1.1" fill="#b3121e"/>
<circle cx="532.30" cy="615.70" r="1.1" fill="#b3121e"/>
<circle cx="532.30" cy="622.20" r="1.1" fill="#b3121e"/>
<line x1="513.70" y1="595.90" x2="522.90" y2="595.90" stroke="#333" stroke-width="0.8"/>
<line x1="527.70" y1="618.50" x2="536.90" y2="618.50" stroke="#444" stroke-width="0.8"/>
<polygon points="525.65,572.90 526.28,574.43 527.93,574.56 526.68,575.63 527.06,577.24 525.65,576.38 524.24,577.24 524.62,575.63 523.37,574.56 525.02,574.43" fill="#333"/>
<line x1="519.00" y1="579.10" x2="532.30" y2="579.10" stroke="#8a8a8a" stroke-width="0.9"/>
<text x="488.20" y="643.25" font-size="8.3" textLength="58.60" lengthAdjust="spacingAndGlyphs" transform="rotate(-90 488.20 643.25)">Intensity (A.U.)</text>
</svg></body></html>
